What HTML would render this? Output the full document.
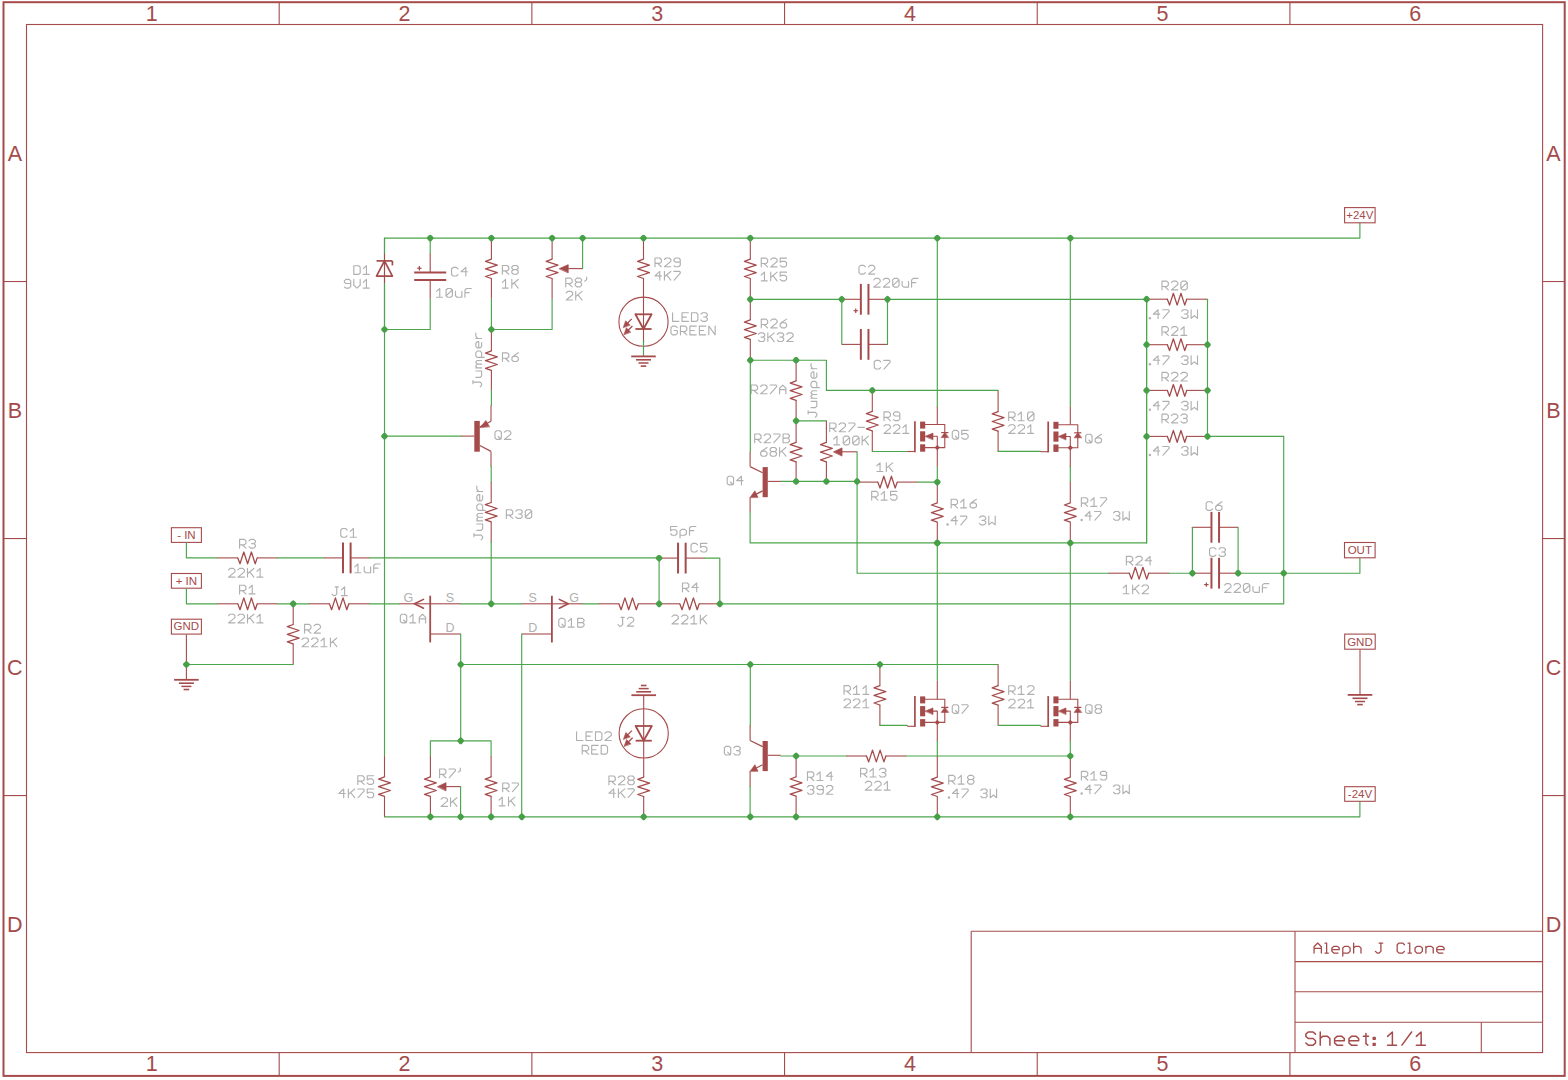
<!DOCTYPE html>
<html><head><meta charset="utf-8"><style>html,body{margin:0;padding:0;background:#fff;}svg{display:block;}</style></head>
<body><svg width="1568" height="1080" viewBox="0 0 1568 1080">
<rect width="1568" height="1080" fill="#fff"/>
<rect x="3.5" y="2.2" width="1561.2" height="1073.7" fill="none" stroke="#a54b4b" stroke-width="2"/>
<rect x="26.5" y="24.5" width="1516.1" height="1028.1" fill="none" stroke="#a54b4b" stroke-width="1.1"/>
<line x1="279.18" y1="2.2" x2="279.18" y2="24.5" stroke="#a54b4b" stroke-width="1.1"/>
<line x1="279.18" y1="1052.6" x2="279.18" y2="1075.9" stroke="#a54b4b" stroke-width="1.1"/>
<line x1="531.87" y1="2.2" x2="531.87" y2="24.5" stroke="#a54b4b" stroke-width="1.1"/>
<line x1="531.87" y1="1052.6" x2="531.87" y2="1075.9" stroke="#a54b4b" stroke-width="1.1"/>
<line x1="784.55" y1="2.2" x2="784.55" y2="24.5" stroke="#a54b4b" stroke-width="1.1"/>
<line x1="784.55" y1="1052.6" x2="784.55" y2="1075.9" stroke="#a54b4b" stroke-width="1.1"/>
<line x1="1037.23" y1="2.2" x2="1037.23" y2="24.5" stroke="#a54b4b" stroke-width="1.1"/>
<line x1="1037.23" y1="1052.6" x2="1037.23" y2="1075.9" stroke="#a54b4b" stroke-width="1.1"/>
<line x1="1289.92" y1="2.2" x2="1289.92" y2="24.5" stroke="#a54b4b" stroke-width="1.1"/>
<line x1="1289.92" y1="1052.6" x2="1289.92" y2="1075.9" stroke="#a54b4b" stroke-width="1.1"/>
<line x1="3.5" y1="281.52" x2="26.5" y2="281.52" stroke="#a54b4b" stroke-width="1.1"/>
<line x1="1542.6" y1="281.52" x2="1564.7" y2="281.52" stroke="#a54b4b" stroke-width="1.1"/>
<line x1="3.5" y1="538.55" x2="26.5" y2="538.55" stroke="#a54b4b" stroke-width="1.1"/>
<line x1="1542.6" y1="538.55" x2="1564.7" y2="538.55" stroke="#a54b4b" stroke-width="1.1"/>
<line x1="3.5" y1="795.57" x2="26.5" y2="795.57" stroke="#a54b4b" stroke-width="1.1"/>
<line x1="1542.6" y1="795.57" x2="1564.7" y2="795.57" stroke="#a54b4b" stroke-width="1.1"/>
<text x="151.84" y="21" font-size="21.5" fill="#a54b4b" text-anchor="middle" font-family="Liberation Sans" opacity="0.995" >1</text>
<text x="151.84" y="1071.3" font-size="21.5" fill="#a54b4b" text-anchor="middle" font-family="Liberation Sans" opacity="0.995" >1</text>
<text x="404.52" y="21" font-size="21.5" fill="#a54b4b" text-anchor="middle" font-family="Liberation Sans" opacity="0.995" >2</text>
<text x="404.52" y="1071.3" font-size="21.5" fill="#a54b4b" text-anchor="middle" font-family="Liberation Sans" opacity="0.995" >2</text>
<text x="657.21" y="21" font-size="21.5" fill="#a54b4b" text-anchor="middle" font-family="Liberation Sans" opacity="0.995" >3</text>
<text x="657.21" y="1071.3" font-size="21.5" fill="#a54b4b" text-anchor="middle" font-family="Liberation Sans" opacity="0.995" >3</text>
<text x="909.89" y="21" font-size="21.5" fill="#a54b4b" text-anchor="middle" font-family="Liberation Sans" opacity="0.995" >4</text>
<text x="909.89" y="1071.3" font-size="21.5" fill="#a54b4b" text-anchor="middle" font-family="Liberation Sans" opacity="0.995" >4</text>
<text x="1162.57" y="21" font-size="21.5" fill="#a54b4b" text-anchor="middle" font-family="Liberation Sans" opacity="0.995" >5</text>
<text x="1162.57" y="1071.3" font-size="21.5" fill="#a54b4b" text-anchor="middle" font-family="Liberation Sans" opacity="0.995" >5</text>
<text x="1415.26" y="21" font-size="21.5" fill="#a54b4b" text-anchor="middle" font-family="Liberation Sans" opacity="0.995" >6</text>
<text x="1415.26" y="1071.3" font-size="21.5" fill="#a54b4b" text-anchor="middle" font-family="Liberation Sans" opacity="0.995" >6</text>
<text x="14.8" y="160.81" font-size="21.5" fill="#a54b4b" text-anchor="middle" font-family="Liberation Sans" opacity="0.995" >A</text>
<text x="1553.5" y="160.81" font-size="21.5" fill="#a54b4b" text-anchor="middle" font-family="Liberation Sans" opacity="0.995" >A</text>
<text x="14.8" y="417.84" font-size="21.5" fill="#a54b4b" text-anchor="middle" font-family="Liberation Sans" opacity="0.995" >B</text>
<text x="1553.5" y="417.84" font-size="21.5" fill="#a54b4b" text-anchor="middle" font-family="Liberation Sans" opacity="0.995" >B</text>
<text x="14.8" y="674.86" font-size="21.5" fill="#a54b4b" text-anchor="middle" font-family="Liberation Sans" opacity="0.995" >C</text>
<text x="1553.5" y="674.86" font-size="21.5" fill="#a54b4b" text-anchor="middle" font-family="Liberation Sans" opacity="0.995" >C</text>
<text x="14.8" y="931.89" font-size="21.5" fill="#a54b4b" text-anchor="middle" font-family="Liberation Sans" opacity="0.995" >D</text>
<text x="1553.5" y="931.89" font-size="21.5" fill="#a54b4b" text-anchor="middle" font-family="Liberation Sans" opacity="0.995" >D</text>
<line x1="971.2" y1="931.2" x2="1542.6" y2="931.2" stroke="#a54b4b" stroke-width="1.1"/>
<line x1="971.2" y1="931.2" x2="971.2" y2="1052.6" stroke="#a54b4b" stroke-width="1.1"/>
<line x1="1295" y1="931.2" x2="1295" y2="1052.6" stroke="#a54b4b" stroke-width="1.1"/>
<line x1="1295" y1="961.6" x2="1542.6" y2="961.6" stroke="#a54b4b" stroke-width="1.1"/>
<line x1="1295" y1="991.7" x2="1542.6" y2="991.7" stroke="#a54b4b" stroke-width="1.1"/>
<line x1="1295" y1="1022.3" x2="1542.6" y2="1022.3" stroke="#a54b4b" stroke-width="1.1"/>
<line x1="1481.3" y1="1022.3" x2="1481.3" y2="1052.6" stroke="#a54b4b" stroke-width="1.1"/>
<path d="M1314.05 953.05 L1314.05 946.72 L1317.71 943.06 L1321.38 946.72 L1321.38 953.05 M1314.05 948.39 L1321.38 948.39 M1324.93 943.06 L1326.64 943.06 L1326.64 953.05 M1324.93 953.05 L1328.35 953.05 M1331.90 949.72 L1339.22 949.72 L1339.22 948.06 L1337.39 946.39 L1333.73 946.39 L1331.90 948.06 L1331.90 951.39 L1333.73 953.05 L1338.00 953.05 M1342.78 956.05 L1342.78 948.06 L1344.61 946.39 L1348.27 946.39 L1350.10 948.06 L1350.10 951.39 L1348.27 953.05 L1342.78 953.05 M1353.65 943.06 L1353.65 953.05 M1353.65 948.06 L1355.49 946.39 L1359.15 946.39 L1360.98 948.06 L1360.98 953.05 M1379.07 943.06 L1382.74 943.06 M1380.91 943.06 L1380.91 951.39 L1379.07 953.05 L1377.24 953.05 L1375.41 951.39 M1404.49 944.73 L1402.66 943.06 L1399.00 943.06 L1397.17 944.73 L1397.17 951.39 L1399.00 953.05 L1402.66 953.05 L1404.49 951.39 M1408.04 943.06 L1409.75 943.06 L1409.75 953.05 M1408.04 953.05 L1411.46 953.05 M1416.85 946.39 L1420.51 946.39 L1422.34 948.06 L1422.34 951.39 L1420.51 953.05 L1416.85 953.05 L1415.02 951.39 L1415.02 948.06 L1416.85 946.39 M1425.89 946.39 L1425.89 953.05 M1425.89 948.06 L1427.73 946.39 L1431.39 946.39 L1433.22 948.06 L1433.22 953.05 M1436.77 949.72 L1444.10 949.72 L1444.10 948.06 L1442.27 946.39 L1438.60 946.39 L1436.77 948.06 L1436.77 951.39 L1438.60 953.05 L1442.88 953.05" fill="none" stroke="#a54b4b" stroke-width="1.3" stroke-linecap="round" stroke-linejoin="round"/>
<path d="M1315.53 1034.15 L1313.11 1031.95 L1308.27 1031.95 L1305.85 1034.15 L1305.85 1036.35 L1308.27 1038.55 L1313.11 1038.55 L1315.53 1040.75 L1315.53 1042.95 L1313.11 1045.15 L1308.27 1045.15 L1305.85 1042.95 M1320.23 1031.95 L1320.23 1045.15 M1320.23 1038.55 L1322.65 1036.35 L1327.49 1036.35 L1329.91 1038.55 L1329.91 1045.15 M1334.60 1040.75 L1344.29 1040.75 L1344.29 1038.55 L1341.86 1036.35 L1337.02 1036.35 L1334.60 1038.55 L1334.60 1042.95 L1337.02 1045.15 L1342.67 1045.15 M1348.98 1040.75 L1358.66 1040.75 L1358.66 1038.55 L1356.24 1036.35 L1351.40 1036.35 L1348.98 1038.55 L1348.98 1042.95 L1351.40 1045.15 L1357.05 1045.15 M1365.94 1033.41 L1365.94 1043.68 L1367.87 1045.15 M1363.36 1036.35 L1368.52 1036.35 M1373.21 1037.52 L1375.15 1037.52 L1375.15 1039.28 L1373.21 1039.28 L1373.21 1037.52 M1373.21 1043.39 L1375.15 1043.39 L1375.15 1045.15 L1373.21 1045.15 L1373.21 1043.39" fill="none" stroke="#a54b4b" stroke-width="1.5" stroke-linecap="round" stroke-linejoin="round"/>
<path d="M1387.55 1036.35 L1392.39 1031.95 L1392.39 1045.15 M1387.55 1045.15 L1396.59 1045.15 M1401.93 1045.15 L1411.61 1031.95 M1416.30 1036.35 L1421.14 1031.95 L1421.14 1045.15 M1416.30 1045.15 L1425.34 1045.15" fill="none" stroke="#a54b4b" stroke-width="1.5" stroke-linecap="round" stroke-linejoin="round"/>
<polyline points="384.5,329.5 384.5,238.1 1359.9,238.1 1359.9,223" fill="none" stroke="#4ba54b" stroke-width="1.15" stroke-linejoin="round" stroke-linecap="round"/>
<polyline points="384.5,436.2 384.5,756.2" fill="none" stroke="#4ba54b" stroke-width="1.15" stroke-linejoin="round" stroke-linecap="round"/>
<polyline points="384.5,816.8 1359.9,816.8 1359.9,801.8" fill="none" stroke="#4ba54b" stroke-width="1.15" stroke-linejoin="round" stroke-linecap="round"/>
<rect x="171.4" y="527.7" width="30" height="14.7" fill="none" stroke="#a54b4b" stroke-width="1.1"/>
<text x="186.4" y="538.7" font-size="11.5" fill="#a54b4b" text-anchor="middle" font-family="Liberation Sans" opacity="0.995" >- IN</text>
<rect x="171.4" y="573.5" width="30" height="14.7" fill="none" stroke="#a54b4b" stroke-width="1.1"/>
<text x="186.4" y="584.5" font-size="11.5" fill="#a54b4b" text-anchor="middle" font-family="Liberation Sans" opacity="0.995" >+ IN</text>
<rect x="171.4" y="619.2" width="30" height="14.9" fill="none" stroke="#a54b4b" stroke-width="1.1"/>
<text x="186.4" y="630.4" font-size="11.5" fill="#a54b4b" text-anchor="middle" font-family="Liberation Sans" opacity="0.995" >GND</text>
<polyline points="186.4,542.9 186.4,557.9 217.5,557.9" fill="none" stroke="#4ba54b" stroke-width="1.15" stroke-linejoin="round" stroke-linecap="round"/>
<polyline points="237.8,557.9 240,563.8 243.8,552 247.6,563.8 251.4,552 255.2,563.8 257.2,557.9" fill="none" stroke="#a54b4b" stroke-width="1.3" stroke-linejoin="round" stroke-linecap="round"/>
<line x1="217.5" y1="557.9" x2="237.8" y2="557.9" stroke="#a54b4b" stroke-width="1.1"/>
<line x1="257.2" y1="557.9" x2="277.5" y2="557.9" stroke="#a54b4b" stroke-width="1.1"/>
<path d="M239.57 548.12 L239.57 539.44 L244.35 539.44 L245.94 540.89 L245.94 543.40 L244.35 544.84 L239.57 544.84 M242.23 544.84 L245.94 548.12 M249.03 540.89 L250.62 539.44 L253.81 539.44 L255.40 540.89 L255.40 542.34 L253.81 543.69 L251.69 543.69 M253.81 543.69 L255.40 545.13 L255.40 546.68 L253.81 548.12 L250.62 548.12 L249.03 546.68" fill="none" stroke="#b0b0b0" stroke-width="1.15" stroke-linecap="round" stroke-linejoin="round"/>
<path d="M228.57 569.89 L230.17 568.44 L233.35 568.44 L234.94 569.89 L234.94 571.82 L228.57 577.12 L234.94 577.12 M238.03 569.89 L239.62 568.44 L242.81 568.44 L244.40 569.89 L244.40 571.82 L238.03 577.12 L244.40 577.12 M247.49 568.44 L247.49 577.12 M253.86 568.44 L247.49 573.75 M249.72 571.91 L253.86 577.12 M256.95 571.34 L260.13 568.44 L260.13 577.12 M256.95 577.12 L262.89 577.12" fill="none" stroke="#b0b0b0" stroke-width="1.15" stroke-linecap="round" stroke-linejoin="round"/>
<polyline points="277.5,557.9 324.2,557.9" fill="none" stroke="#4ba54b" stroke-width="1.15" stroke-linejoin="round" stroke-linecap="round"/>
<line x1="324.2" y1="557.9" x2="343" y2="557.9" stroke="#a54b4b" stroke-width="1.1"/>
<line x1="350.6" y1="557.9" x2="369.4" y2="557.9" stroke="#a54b4b" stroke-width="1.1"/>
<line x1="343" y1="542.5" x2="343" y2="573.3" stroke="#a54b4b" stroke-width="2"/>
<line x1="350.6" y1="542.5" x2="350.6" y2="573.3" stroke="#a54b4b" stroke-width="2"/>
<path d="M347.14 529.99 L345.55 528.54 L342.37 528.54 L340.77 529.99 L340.77 535.78 L342.37 537.22 L345.55 537.22 L347.14 535.78 M350.23 531.43 L353.42 528.54 L353.42 537.22 M350.23 537.22 L356.18 537.22" fill="none" stroke="#b0b0b0" stroke-width="1.15" stroke-linecap="round" stroke-linejoin="round"/>
<path d="M354.77 566.93 L357.96 564.04 L357.96 572.72 M354.77 572.72 L360.72 572.72 M364.23 566.93 L364.23 571.28 L365.82 572.72 L370.60 572.72 M370.60 566.93 L370.60 572.72 M380.06 564.04 L375.28 564.04 L373.69 565.49 L373.69 572.72 M373.69 568.19 L377.94 568.19" fill="none" stroke="#b0b0b0" stroke-width="1.15" stroke-linecap="round" stroke-linejoin="round"/>
<polyline points="369.4,557.9 659.1,557.9" fill="none" stroke="#4ba54b" stroke-width="1.15" stroke-linejoin="round" stroke-linecap="round"/>
<polyline points="186.4,588.7 186.4,603.8 217.5,603.8" fill="none" stroke="#4ba54b" stroke-width="1.15" stroke-linejoin="round" stroke-linecap="round"/>
<polyline points="237.8,603.8 240,609.7 243.8,597.9 247.6,609.7 251.4,597.9 255.2,609.7 257.2,603.8" fill="none" stroke="#a54b4b" stroke-width="1.3" stroke-linejoin="round" stroke-linecap="round"/>
<line x1="217.5" y1="603.8" x2="237.8" y2="603.8" stroke="#a54b4b" stroke-width="1.1"/>
<line x1="257.2" y1="603.8" x2="277.5" y2="603.8" stroke="#a54b4b" stroke-width="1.1"/>
<path d="M239.57 593.92 L239.57 585.24 L244.35 585.24 L245.94 586.69 L245.94 589.20 L244.35 590.64 L239.57 590.64 M242.23 590.64 L245.94 593.92 M249.03 588.13 L252.22 585.24 L252.22 593.92 M249.03 593.92 L254.98 593.92" fill="none" stroke="#b0b0b0" stroke-width="1.15" stroke-linecap="round" stroke-linejoin="round"/>
<path d="M228.57 615.69 L230.17 614.24 L233.35 614.24 L234.94 615.69 L234.94 617.62 L228.57 622.92 L234.94 622.92 M238.03 615.69 L239.62 614.24 L242.81 614.24 L244.40 615.69 L244.40 617.62 L238.03 622.92 L244.40 622.92 M247.49 614.24 L247.49 622.92 M253.86 614.24 L247.49 619.55 M249.72 617.71 L253.86 622.92 M256.95 617.13 L260.13 614.24 L260.13 622.92 M256.95 622.92 L262.89 622.92" fill="none" stroke="#b0b0b0" stroke-width="1.15" stroke-linecap="round" stroke-linejoin="round"/>
<polyline points="277.5,603.8 308.8,603.8" fill="none" stroke="#4ba54b" stroke-width="1.15" stroke-linejoin="round" stroke-linecap="round"/>
<polyline points="329.4,603.8 331.6,609.7 335.4,597.9 339.2,609.7 343,597.9 346.8,609.7 348.8,603.8" fill="none" stroke="#a54b4b" stroke-width="1.3" stroke-linejoin="round" stroke-linecap="round"/>
<line x1="308.8" y1="603.8" x2="329.4" y2="603.8" stroke="#a54b4b" stroke-width="1.1"/>
<line x1="348.8" y1="603.8" x2="369.4" y2="603.8" stroke="#a54b4b" stroke-width="1.1"/>
<path d="M335.16 586.94 L338.34 586.94 M336.75 586.94 L336.75 594.18 L335.16 595.62 L333.57 595.62 L331.97 594.18 M341.43 589.84 L344.62 586.94 L344.62 595.62 M341.43 595.62 L347.38 595.62" fill="none" stroke="#b0b0b0" stroke-width="1.15" stroke-linecap="round" stroke-linejoin="round"/>
<polyline points="369.4,603.8 399.6,603.8" fill="none" stroke="#4ba54b" stroke-width="1.15" stroke-linejoin="round" stroke-linecap="round"/>
<polyline points="293.2,624.5 287.3,626.7 299.1,630.5 287.3,634.3 299.1,638.1 287.3,641.9 293.2,643.9" fill="none" stroke="#a54b4b" stroke-width="1.3" stroke-linejoin="round" stroke-linecap="round"/>
<line x1="293.2" y1="603.8" x2="293.2" y2="624.5" stroke="#a54b4b" stroke-width="1.1"/>
<line x1="293.2" y1="643.9" x2="293.2" y2="664.5" stroke="#a54b4b" stroke-width="1.1"/>
<path d="M304.57 633.12 L304.57 624.44 L309.35 624.44 L310.94 625.89 L310.94 628.40 L309.35 629.84 L304.57 629.84 M307.23 629.84 L310.94 633.12 M314.03 625.89 L315.62 624.44 L318.81 624.44 L320.40 625.89 L320.40 627.82 L314.03 633.12 L320.40 633.12" fill="none" stroke="#b0b0b0" stroke-width="1.15" stroke-linecap="round" stroke-linejoin="round"/>
<path d="M302.07 639.49 L303.67 638.04 L306.85 638.04 L308.44 639.49 L308.44 641.42 L302.07 646.72 L308.44 646.72 M311.53 639.49 L313.12 638.04 L316.31 638.04 L317.90 639.49 L317.90 641.42 L311.53 646.72 L317.90 646.72 M320.99 640.93 L324.17 638.04 L324.17 646.72 M320.99 646.72 L326.93 646.72 M330.45 638.04 L330.45 646.72 M336.81 638.04 L330.45 643.35 M332.68 641.51 L336.81 646.72" fill="none" stroke="#b0b0b0" stroke-width="1.15" stroke-linecap="round" stroke-linejoin="round"/>
<polyline points="293.2,664.5 186.4,664.5" fill="none" stroke="#4ba54b" stroke-width="1.15" stroke-linejoin="round" stroke-linecap="round"/>
<line x1="186.4" y1="634.6" x2="186.4" y2="679.8" stroke="#a54b4b" stroke-width="1.1"/>
<line x1="174.1" y1="679.8" x2="198.7" y2="679.8" stroke="#a54b4b" stroke-width="1.8"/>
<line x1="178.9" y1="683.2" x2="193.9" y2="683.2" stroke="#a54b4b" stroke-width="1.6"/>
<line x1="181.4" y1="686.4" x2="191.4" y2="686.4" stroke="#a54b4b" stroke-width="1.5"/>
<line x1="183.6" y1="689.5" x2="189.2" y2="689.5" stroke="#a54b4b" stroke-width="1.6"/>
<polyline points="384.5,238.1 384.5,253.7" fill="none" stroke="#4ba54b" stroke-width="1.15" stroke-linejoin="round" stroke-linecap="round"/>
<line x1="384.5" y1="253.7" x2="384.5" y2="283.5" stroke="#a54b4b" stroke-width="1.1"/>
<line x1="376.5" y1="260.9" x2="392.4" y2="260.9" stroke="#a54b4b" stroke-width="1.7"/>
<line x1="392.4" y1="260.9" x2="392.4" y2="265.4" stroke="#a54b4b" stroke-width="1.7"/>
<polygon points="384.5,260.9 376.5,276.1 392.4,276.1" fill="none" stroke="#a54b4b" stroke-width="1.7" stroke-linejoin="round" stroke-linecap="round"/>
<polyline points="384.5,283.5 384.5,329.5 430.2,329.5 430.2,298.8" fill="none" stroke="#4ba54b" stroke-width="1.15" stroke-linejoin="round" stroke-linecap="round"/>
<path d="M353.80 265.74 L358.58 265.74 L360.17 267.19 L360.17 272.98 L358.58 274.43 L353.80 274.43 L353.80 265.74 M363.26 268.63 L366.44 265.74 L366.44 274.43 M363.26 274.43 L369.20 274.43" fill="none" stroke="#b0b0b0" stroke-width="1.15" stroke-linecap="round" stroke-linejoin="round"/>
<path d="M350.71 283.49 L345.93 283.49 L344.34 282.14 L344.34 280.89 L345.93 279.44 L349.12 279.44 L350.71 280.89 L350.71 286.68 L349.12 288.12 L345.93 288.12 L344.55 287.16 M353.80 279.44 L353.80 285.23 L356.98 288.12 L360.17 285.23 L360.17 279.44 M363.26 282.33 L366.44 279.44 L366.44 288.12 M363.26 288.12 L369.20 288.12" fill="none" stroke="#b0b0b0" stroke-width="1.15" stroke-linecap="round" stroke-linejoin="round"/>
<polyline points="430.2,238.1 430.2,253.7" fill="none" stroke="#4ba54b" stroke-width="1.15" stroke-linejoin="round" stroke-linecap="round"/>
<line x1="430.2" y1="253.65" x2="430.2" y2="272.45" stroke="#a54b4b" stroke-width="1.1"/>
<line x1="430.2" y1="280.05" x2="430.2" y2="298.85" stroke="#a54b4b" stroke-width="1.1"/>
<line x1="414.2" y1="272.45" x2="446.2" y2="272.45" stroke="#a54b4b" stroke-width="2"/>
<line x1="414.2" y1="280.05" x2="446.2" y2="280.05" stroke="#a54b4b" stroke-width="2"/>
<line x1="417.2" y1="268.25" x2="421.6" y2="268.25" stroke="#a54b4b" stroke-width="1.2"/>
<line x1="419.4" y1="266.05" x2="419.4" y2="270.45" stroke="#a54b4b" stroke-width="1.2"/>
<path d="M457.94 268.79 L456.35 267.34 L453.17 267.34 L451.57 268.79 L451.57 274.58 L453.17 276.03 L456.35 276.03 L457.94 274.58 M465.81 276.03 L465.81 267.34 L461.03 271.78 L467.40 271.78" fill="none" stroke="#b0b0b0" stroke-width="1.15" stroke-linecap="round" stroke-linejoin="round"/>
<path d="M436.57 291.44 L439.76 288.54 L439.76 297.23 M436.57 297.23 L442.52 297.23 M447.62 288.54 L450.81 288.54 L452.40 289.99 L452.40 295.78 L450.81 297.23 L447.62 297.23 L446.03 295.78 L446.03 289.99 L447.62 288.54 M446.67 295.30 L451.76 290.47 M455.49 291.44 L455.49 295.78 L457.08 297.23 L461.86 297.23 M461.86 291.44 L461.86 297.23 M471.31 288.54 L466.54 288.54 L464.95 289.99 L464.95 297.23 M464.95 292.69 L469.19 292.69" fill="none" stroke="#b0b0b0" stroke-width="1.15" stroke-linecap="round" stroke-linejoin="round"/>
<polyline points="491.4,259.1 485.5,261.3 497.3,265.1 485.5,268.9 497.3,272.7 485.5,276.5 491.4,278.5" fill="none" stroke="#a54b4b" stroke-width="1.3" stroke-linejoin="round" stroke-linecap="round"/>
<line x1="491.4" y1="238.1" x2="491.4" y2="259.1" stroke="#a54b4b" stroke-width="1.1"/>
<line x1="491.4" y1="278.5" x2="491.4" y2="298.8" stroke="#a54b4b" stroke-width="1.1"/>
<path d="M502.38 274.23 L502.38 265.54 L507.15 265.54 L508.74 266.99 L508.74 269.50 L507.15 270.94 L502.38 270.94 M505.03 270.94 L508.74 274.23 M513.42 265.54 L516.61 265.54 L518.20 266.99 L518.20 268.24 L516.61 269.59 L513.42 269.59 L511.83 268.24 L511.83 266.99 L513.42 265.54 M513.42 269.59 L511.83 271.04 L511.83 272.78 L513.42 274.23 L516.61 274.23 L518.20 272.78 L518.20 271.04 L516.61 269.59" fill="none" stroke="#b0b0b0" stroke-width="1.15" stroke-linecap="round" stroke-linejoin="round"/>
<path d="M502.38 282.33 L505.56 279.44 L505.56 288.12 M502.38 288.12 L508.32 288.12 M511.83 279.44 L511.83 288.12 M518.20 279.44 L511.83 284.75 M514.06 282.91 L518.20 288.12" fill="none" stroke="#b0b0b0" stroke-width="1.15" stroke-linecap="round" stroke-linejoin="round"/>
<polyline points="491.4,298.8 491.4,329.5 552.1,329.5 552.1,298.8" fill="none" stroke="#4ba54b" stroke-width="1.15" stroke-linejoin="round" stroke-linecap="round"/>
<polyline points="552.1,259.1 546.2,261.3 558,265.1 546.2,268.9 558,272.7 546.2,276.5 552.1,278.5" fill="none" stroke="#a54b4b" stroke-width="1.3" stroke-linejoin="round" stroke-linecap="round"/>
<line x1="552.1" y1="238.1" x2="552.1" y2="259.1" stroke="#a54b4b" stroke-width="1.1"/>
<line x1="552.1" y1="278.5" x2="552.1" y2="298.8" stroke="#a54b4b" stroke-width="1.1"/>
<polygon points="559.5,268.6 568.2,264.7 568.2,272.5" fill="#a54b4b" stroke="#a54b4b" stroke-width="0.8" stroke-linejoin="round" stroke-linecap="round"/>
<line x1="568.2" y1="268.6" x2="582.6" y2="268.6" stroke="#a54b4b" stroke-width="1.1"/>
<polyline points="582.6,268.6 582.6,238.1" fill="none" stroke="#4ba54b" stroke-width="1.15" stroke-linejoin="round" stroke-linecap="round"/>
<path d="M565.78 286.82 L565.78 278.14 L570.55 278.14 L572.14 279.59 L572.14 282.10 L570.55 283.54 L565.78 283.54 M568.43 283.54 L572.14 286.82 M576.82 278.14 L580.01 278.14 L581.60 279.59 L581.60 280.84 L580.01 282.19 L576.82 282.19 L575.23 280.84 L575.23 279.59 L576.82 278.14 M576.82 282.19 L575.23 283.64 L575.23 285.38 L576.82 286.82 L580.01 286.82 L581.60 285.38 L581.60 283.64 L580.01 282.19 M586.60 277.18 L586.60 279.59 L584.69 281.23" fill="none" stroke="#b0b0b0" stroke-width="1.15" stroke-linecap="round" stroke-linejoin="round"/>
<path d="M566.28 292.79 L567.87 291.34 L571.05 291.34 L572.64 292.79 L572.64 294.72 L566.28 300.03 L572.64 300.03 M575.73 291.34 L575.73 300.03 M582.10 291.34 L575.73 296.65 M577.96 294.81 L582.10 300.03" fill="none" stroke="#b0b0b0" stroke-width="1.15" stroke-linecap="round" stroke-linejoin="round"/>
<polyline points="643.5,259.1 637.6,261.3 649.4,265.1 637.6,268.9 649.4,272.7 637.6,276.5 643.5,278.5" fill="none" stroke="#a54b4b" stroke-width="1.3" stroke-linejoin="round" stroke-linecap="round"/>
<line x1="643.5" y1="238.1" x2="643.5" y2="259.1" stroke="#a54b4b" stroke-width="1.1"/>
<line x1="643.5" y1="278.5" x2="643.5" y2="341.2" stroke="#a54b4b" stroke-width="1.1"/>
<path d="M654.98 266.73 L654.98 258.04 L659.75 258.04 L661.34 259.49 L661.34 262.00 L659.75 263.44 L654.98 263.44 M657.63 263.44 L661.34 266.73 M664.43 259.49 L666.02 258.04 L669.21 258.04 L670.80 259.49 L670.80 261.42 L664.43 266.73 L670.80 266.73 M680.26 262.09 L675.48 262.09 L673.89 260.74 L673.89 259.49 L675.48 258.04 L678.67 258.04 L680.26 259.49 L680.26 265.28 L678.67 266.73 L675.48 266.73 L674.10 265.76" fill="none" stroke="#b0b0b0" stroke-width="1.15" stroke-linecap="round" stroke-linejoin="round"/>
<path d="M659.75 280.12 L659.75 271.44 L654.98 275.88 L661.34 275.88 M664.43 271.44 L664.43 280.12 M670.80 271.44 L664.43 276.75 M666.66 274.91 L670.80 280.12 M673.89 271.44 L679.73 271.44 L680.26 272.21 L680.26 273.18 L674.21 280.12" fill="none" stroke="#b0b0b0" stroke-width="1.15" stroke-linecap="round" stroke-linejoin="round"/>
<circle cx="643.5" cy="321.7" r="24.6" fill="none" stroke="#a54b4b" stroke-width="1.1"/>
<line x1="635.4" y1="314.3" x2="651.6" y2="314.3" stroke="#a54b4b" stroke-width="1.8"/>
<polyline points="635.4,314.3 643.5,329 651.6,314.3" fill="none" stroke="#a54b4b" stroke-width="1.8" stroke-linejoin="round" stroke-linecap="round"/>
<line x1="635.4" y1="329" x2="651.6" y2="329" stroke="#a54b4b" stroke-width="1.8"/>
<line x1="631.7" y1="318.9" x2="625" y2="325.7" stroke="#a54b4b" stroke-width="1.3"/>
<polygon points="623.25,327.48 625.67,320.75 629.94,324.96" fill="#a54b4b" stroke="#a54b4b" stroke-width="0.6" stroke-linejoin="round" stroke-linecap="round"/>
<line x1="632.4" y1="326" x2="625.7" y2="332.8" stroke="#a54b4b" stroke-width="1.3"/>
<polygon points="623.95,334.58 626.37,327.85 630.64,332.06" fill="#a54b4b" stroke="#a54b4b" stroke-width="0.6" stroke-linejoin="round" stroke-linecap="round"/>
<polyline points="643.5,341.2 643.5,356.4" fill="none" stroke="#4ba54b" stroke-width="1.15" stroke-linejoin="round" stroke-linecap="round"/>
<line x1="631.2" y1="356.4" x2="655.8" y2="356.4" stroke="#a54b4b" stroke-width="1.8"/>
<line x1="636" y1="359.8" x2="651" y2="359.8" stroke="#a54b4b" stroke-width="1.6"/>
<line x1="638.5" y1="363" x2="648.5" y2="363" stroke="#a54b4b" stroke-width="1.5"/>
<line x1="640.7" y1="366.1" x2="646.3" y2="366.1" stroke="#a54b4b" stroke-width="1.6"/>
<path d="M672.58 312.74 L672.58 321.43 L678.94 321.43 M688.40 312.74 L682.03 312.74 L682.03 321.43 L688.40 321.43 M682.03 317.08 L686.28 317.08 M691.49 312.74 L696.27 312.74 L697.86 314.19 L697.86 319.98 L696.27 321.43 L691.49 321.43 L691.49 312.74 M700.95 314.19 L702.54 312.74 L705.72 312.74 L707.32 314.19 L707.32 315.63 L705.72 316.99 L703.60 316.99 M705.72 316.99 L707.32 318.43 L707.32 319.98 L705.72 321.43 L702.54 321.43 L700.95 319.98" fill="none" stroke="#b0b0b0" stroke-width="1.15" stroke-linecap="round" stroke-linejoin="round"/>
<path d="M677.34 327.59 L675.75 326.14 L672.57 326.14 L670.98 327.59 L670.98 333.38 L672.57 334.82 L675.75 334.82 L677.34 333.38 L677.34 330.48 L674.16 330.48 M680.43 334.82 L680.43 326.14 L685.21 326.14 L686.80 327.59 L686.80 330.10 L685.21 331.54 L680.43 331.54 M683.09 331.54 L686.80 334.82 M696.26 326.14 L689.89 326.14 L689.89 334.82 L696.26 334.82 M689.89 330.48 L694.13 330.48 M705.72 326.14 L699.35 326.14 L699.35 334.82 L705.72 334.82 M699.35 330.48 L703.59 330.48 M708.80 334.82 L708.80 326.14 L715.17 334.82 L715.17 326.14" fill="none" stroke="#b0b0b0" stroke-width="1.15" stroke-linecap="round" stroke-linejoin="round"/>
<polyline points="491.4,350.9 485.5,353.1 497.3,356.9 485.5,360.7 497.3,364.5 485.5,368.3 491.4,370.3" fill="none" stroke="#a54b4b" stroke-width="1.3" stroke-linejoin="round" stroke-linecap="round"/>
<line x1="491.4" y1="329.5" x2="491.4" y2="350.9" stroke="#a54b4b" stroke-width="1.1"/>
<line x1="491.4" y1="370.3" x2="491.4" y2="390.6" stroke="#a54b4b" stroke-width="1.1"/>
<path d="M502.47 361.53 L502.47 352.84 L507.25 352.84 L508.84 354.29 L508.84 356.80 L507.25 358.24 L502.47 358.24 M505.13 358.24 L508.84 361.53 M518.30 352.84 L513.31 356.12 L511.93 357.67 L511.93 360.08 L513.52 361.53 L516.71 361.53 L518.30 360.08 L518.30 357.86 L516.71 356.41 L513.52 356.41 L511.93 357.86" fill="none" stroke="#b0b0b0" stroke-width="1.15" stroke-linecap="round" stroke-linejoin="round"/>
<path d="M3.76 -9.26 L6.94 -9.26 M5.35 -9.26 L5.35 -2.02 L3.76 -0.57 L2.17 -0.57 L0.57 -2.02 M10.03 -6.37 L10.03 -2.02 L11.62 -0.57 L16.40 -0.57 M16.40 -6.37 L16.40 -0.57 M19.49 -6.37 L19.49 -0.57 M19.49 -4.92 L21.08 -6.37 L21.72 -6.37 L23.20 -4.92 L23.20 -0.57 M23.20 -4.92 L24.69 -6.37 L25.33 -6.37 L26.92 -4.92 L26.92 -0.57 M30.01 2.03 L30.01 -4.92 L31.60 -6.37 L34.78 -6.37 L36.38 -4.92 L36.38 -2.02 L34.78 -0.57 L30.01 -0.57 M39.46 -3.47 L45.83 -3.47 L45.83 -4.92 L44.24 -6.37 L41.06 -6.37 L39.46 -4.92 L39.46 -2.02 L41.06 -0.57 L44.77 -0.57 M48.92 -6.37 L48.92 -0.57 M48.92 -4.43 L51.04 -6.37 L54.23 -6.37" fill="none" stroke="#b0b0b0" stroke-width="1.15" stroke-linecap="round" stroke-linejoin="round" transform="translate(482.2,387.4) rotate(-90)"/>
<polyline points="491.4,390.6 491.4,405.5" fill="none" stroke="#4ba54b" stroke-width="1.15" stroke-linejoin="round" stroke-linecap="round"/>
<rect x="474.3" y="420.9" width="5.5" height="30.8" fill="#a54b4b"/>
<line x1="461" y1="436.1" x2="474.3" y2="436.1" stroke="#a54b4b" stroke-width="1.1"/>
<polyline points="384.5,436.1 461,436.1" fill="none" stroke="#4ba54b" stroke-width="1.15" stroke-linejoin="round" stroke-linecap="round"/>
<line x1="491" y1="405.5" x2="491" y2="421.2" stroke="#a54b4b" stroke-width="1.1"/>
<line x1="491" y1="421.2" x2="479.8" y2="427" stroke="#a54b4b" stroke-width="1.2"/>
<polygon points="480,427.4 485.9,420.4 489.4,426.6" fill="#a54b4b" stroke="#a54b4b" stroke-width="0.6" stroke-linejoin="round" stroke-linecap="round"/>
<line x1="479.8" y1="445.5" x2="491" y2="451.4" stroke="#a54b4b" stroke-width="1.2"/>
<line x1="491" y1="451.4" x2="491" y2="466.3" stroke="#a54b4b" stroke-width="1.1"/>
<path d="M496.57 430.74 L499.75 430.74 L501.34 432.19 L501.34 437.98 L499.75 439.43 L496.57 439.43 L494.97 437.98 L494.97 432.19 L496.57 430.74 M498.16 436.53 L500.92 439.23 M504.43 432.19 L506.02 430.74 L509.21 430.74 L510.80 432.19 L510.80 434.12 L504.43 439.43 L510.80 439.43" fill="none" stroke="#b0b0b0" stroke-width="1.15" stroke-linecap="round" stroke-linejoin="round"/>
<polyline points="491.2,466.3 491.2,482" fill="none" stroke="#4ba54b" stroke-width="1.15" stroke-linejoin="round" stroke-linecap="round"/>
<polyline points="491.2,502.5 485.3,504.7 497.1,508.5 485.3,512.3 497.1,516.1 485.3,519.9 491.2,521.9" fill="none" stroke="#a54b4b" stroke-width="1.3" stroke-linejoin="round" stroke-linecap="round"/>
<line x1="491.2" y1="482" x2="491.2" y2="502.5" stroke="#a54b4b" stroke-width="1.1"/>
<line x1="491.2" y1="521.9" x2="491.2" y2="542.3" stroke="#a54b4b" stroke-width="1.1"/>
<path d="M506.38 518.42 L506.38 509.74 L511.15 509.74 L512.74 511.19 L512.74 513.70 L511.15 515.14 L506.38 515.14 M509.03 515.14 L512.74 518.42 M515.83 511.19 L517.42 509.74 L520.61 509.74 L522.20 511.19 L522.20 512.63 L520.61 513.99 L518.49 513.99 M520.61 513.99 L522.20 515.43 L522.20 516.98 L520.61 518.42 L517.42 518.42 L515.83 516.98 M526.88 509.74 L530.07 509.74 L531.66 511.19 L531.66 516.98 L530.07 518.42 L526.88 518.42 L525.29 516.98 L525.29 511.19 L526.88 509.74 M525.93 516.50 L531.02 511.67" fill="none" stroke="#b0b0b0" stroke-width="1.15" stroke-linecap="round" stroke-linejoin="round"/>
<path d="M3.76 -9.26 L6.94 -9.26 M5.35 -9.26 L5.35 -2.02 L3.76 -0.57 L2.17 -0.57 L0.57 -2.02 M10.03 -6.37 L10.03 -2.02 L11.62 -0.57 L16.40 -0.57 M16.40 -6.37 L16.40 -0.57 M19.49 -6.37 L19.49 -0.57 M19.49 -4.92 L21.08 -6.37 L21.72 -6.37 L23.20 -4.92 L23.20 -0.57 M23.20 -4.92 L24.69 -6.37 L25.33 -6.37 L26.92 -4.92 L26.92 -0.57 M30.01 2.03 L30.01 -4.92 L31.60 -6.37 L34.78 -6.37 L36.38 -4.92 L36.38 -2.02 L34.78 -0.57 L30.01 -0.57 M39.46 -3.47 L45.83 -3.47 L45.83 -4.92 L44.24 -6.37 L41.06 -6.37 L39.46 -4.92 L39.46 -2.02 L41.06 -0.57 L44.77 -0.57 M48.92 -6.37 L48.92 -0.57 M48.92 -4.43 L51.04 -6.37 L54.23 -6.37" fill="none" stroke="#b0b0b0" stroke-width="1.15" stroke-linecap="round" stroke-linejoin="round" transform="translate(483.2,540.4) rotate(-90)"/>
<polyline points="491.2,542.3 491.2,603.8" fill="none" stroke="#4ba54b" stroke-width="1.15" stroke-linejoin="round" stroke-linecap="round"/>
<polyline points="384.5,329.5 384.5,436.2" fill="none" stroke="#4ba54b" stroke-width="1.15" stroke-linejoin="round" stroke-linecap="round"/>
<line x1="430.2" y1="595.7" x2="430.2" y2="642.4" stroke="#a54b4b" stroke-width="1.8"/>
<line x1="399.6" y1="603.8" x2="430.2" y2="603.8" stroke="#a54b4b" stroke-width="1.1"/>
<line x1="430.2" y1="603.8" x2="460.7" y2="603.8" stroke="#a54b4b" stroke-width="1.1"/>
<line x1="430.2" y1="634" x2="460.7" y2="634" stroke="#a54b4b" stroke-width="1.1"/>
<polyline points="423.5,599.4 414.4,603.8 423.5,608.2" fill="none" stroke="#a54b4b" stroke-width="1.6" stroke-linejoin="round" stroke-linecap="round"/>
<line x1="551.9" y1="595.7" x2="551.9" y2="642.4" stroke="#a54b4b" stroke-width="1.8"/>
<line x1="582.7" y1="603.8" x2="551.9" y2="603.8" stroke="#a54b4b" stroke-width="1.1"/>
<line x1="551.9" y1="603.8" x2="521.7" y2="603.8" stroke="#a54b4b" stroke-width="1.1"/>
<line x1="551.9" y1="634" x2="521.7" y2="634" stroke="#a54b4b" stroke-width="1.1"/>
<polyline points="559.3,599.4 568.2,603.8 559.3,608.2" fill="none" stroke="#a54b4b" stroke-width="1.6" stroke-linejoin="round" stroke-linecap="round"/>
<text x="408.3" y="601.8" font-size="12.5" fill="#b0b0b0" text-anchor="middle" font-family="Liberation Sans" opacity="0.995" >G</text>
<text x="449.8" y="601.8" font-size="12.5" fill="#b0b0b0" text-anchor="middle" font-family="Liberation Sans" opacity="0.995" >S</text>
<text x="450" y="631.7" font-size="12.5" fill="#b0b0b0" text-anchor="middle" font-family="Liberation Sans" opacity="0.995" >D</text>
<text x="532.7" y="601.8" font-size="12.5" fill="#b0b0b0" text-anchor="middle" font-family="Liberation Sans" opacity="0.995" >S</text>
<text x="574" y="601.8" font-size="12.5" fill="#b0b0b0" text-anchor="middle" font-family="Liberation Sans" opacity="0.995" >G</text>
<text x="532.7" y="631.7" font-size="12.5" fill="#b0b0b0" text-anchor="middle" font-family="Liberation Sans" opacity="0.995" >D</text>
<path d="M401.93 614.24 L405.12 614.24 L406.71 615.69 L406.71 621.48 L405.12 622.92 L401.93 622.92 L400.34 621.48 L400.34 615.69 L401.93 614.24 M403.53 620.03 L406.29 622.73 M409.80 617.13 L412.98 614.24 L412.98 622.92 M409.80 622.92 L415.74 622.92 M419.26 622.92 L419.26 617.42 L422.44 614.24 L425.62 617.42 L425.62 622.92 M419.26 618.87 L425.62 618.87" fill="none" stroke="#b0b0b0" stroke-width="1.15" stroke-linecap="round" stroke-linejoin="round"/>
<path d="M560.37 618.44 L563.55 618.44 L565.14 619.89 L565.14 625.68 L563.55 627.12 L560.37 627.12 L558.78 625.68 L558.78 619.89 L560.37 618.44 M561.96 624.23 L564.72 626.93 M568.23 621.34 L571.42 618.44 L571.42 627.12 M568.23 627.12 L574.18 627.12 M577.69 618.44 L582.47 618.44 L584.06 619.89 L584.06 621.14 L582.47 622.59 L577.69 622.59 M582.47 622.59 L584.06 624.04 L584.06 625.68 L582.47 627.12 L577.69 627.12 L577.69 618.44" fill="none" stroke="#b0b0b0" stroke-width="1.15" stroke-linecap="round" stroke-linejoin="round"/>
<polyline points="460.7,603.8 521.7,603.8" fill="none" stroke="#4ba54b" stroke-width="1.15" stroke-linejoin="round" stroke-linecap="round"/>
<polyline points="460.7,634 460.7,740.8" fill="none" stroke="#4ba54b" stroke-width="1.15" stroke-linejoin="round" stroke-linecap="round"/>
<polyline points="521.7,634 521.7,816.8" fill="none" stroke="#4ba54b" stroke-width="1.15" stroke-linejoin="round" stroke-linecap="round"/>
<polyline points="460.7,664.5 998.1,664.5" fill="none" stroke="#4ba54b" stroke-width="1.15" stroke-linejoin="round" stroke-linecap="round"/>
<polyline points="582.7,603.8 598.6,603.8" fill="none" stroke="#4ba54b" stroke-width="1.15" stroke-linejoin="round" stroke-linecap="round"/>
<polyline points="618.9,603.8 621.1,609.7 624.9,597.9 628.7,609.7 632.5,597.9 636.3,609.7 638.3,603.8" fill="none" stroke="#a54b4b" stroke-width="1.3" stroke-linejoin="round" stroke-linecap="round"/>
<line x1="598.6" y1="603.8" x2="618.9" y2="603.8" stroke="#a54b4b" stroke-width="1.1"/>
<line x1="638.3" y1="603.8" x2="659.1" y2="603.8" stroke="#a54b4b" stroke-width="1.1"/>
<path d="M621.06 617.44 L624.24 617.44 M622.65 617.44 L622.65 624.68 L621.06 626.12 L619.47 626.12 L617.88 624.68 M627.33 618.89 L628.92 617.44 L632.11 617.44 L633.70 618.89 L633.70 620.82 L627.33 626.12 L633.70 626.12" fill="none" stroke="#b0b0b0" stroke-width="1.15" stroke-linecap="round" stroke-linejoin="round"/>
<polyline points="659.1,558.1 659.1,603.8" fill="none" stroke="#4ba54b" stroke-width="1.15" stroke-linejoin="round" stroke-linecap="round"/>
<line x1="659.25" y1="558.1" x2="678.05" y2="558.1" stroke="#a54b4b" stroke-width="1.1"/>
<line x1="685.65" y1="558.1" x2="704.45" y2="558.1" stroke="#a54b4b" stroke-width="1.1"/>
<line x1="678.05" y1="542.7" x2="678.05" y2="573.5" stroke="#a54b4b" stroke-width="2"/>
<line x1="685.65" y1="542.7" x2="685.65" y2="573.5" stroke="#a54b4b" stroke-width="2"/>
<path d="M676.94 526.54 L670.58 526.54 L670.58 530.79 L672.17 529.72 L675.35 529.72 L676.94 531.17 L676.94 533.78 L675.35 535.22 L672.17 535.22 L670.58 533.78 M680.03 537.83 L680.03 530.88 L681.62 529.43 L684.81 529.43 L686.40 530.88 L686.40 533.78 L684.81 535.22 L680.03 535.22 M695.86 526.54 L691.08 526.54 L689.49 527.99 L689.49 535.22 M689.49 530.69 L693.74 530.69" fill="none" stroke="#b0b0b0" stroke-width="1.15" stroke-linecap="round" stroke-linejoin="round"/>
<path d="M697.44 544.79 L695.85 543.34 L692.67 543.34 L691.08 544.79 L691.08 550.58 L692.67 552.02 L695.85 552.02 L697.44 550.58 M706.90 543.34 L700.53 543.34 L700.53 547.59 L702.12 546.52 L705.31 546.52 L706.90 547.97 L706.90 550.58 L705.31 552.02 L702.12 552.02 L700.53 550.58" fill="none" stroke="#b0b0b0" stroke-width="1.15" stroke-linecap="round" stroke-linejoin="round"/>
<polyline points="704.4,558.1 719.8,558.1 719.8,603.8" fill="none" stroke="#4ba54b" stroke-width="1.15" stroke-linejoin="round" stroke-linecap="round"/>
<polyline points="679.8,603.8 682,609.7 685.8,597.9 689.6,609.7 693.4,597.9 697.2,609.7 699.2,603.8" fill="none" stroke="#a54b4b" stroke-width="1.3" stroke-linejoin="round" stroke-linecap="round"/>
<line x1="659.1" y1="603.8" x2="679.8" y2="603.8" stroke="#a54b4b" stroke-width="1.1"/>
<line x1="699.2" y1="603.8" x2="719.8" y2="603.8" stroke="#a54b4b" stroke-width="1.1"/>
<path d="M682.48 591.72 L682.48 583.04 L687.25 583.04 L688.84 584.49 L688.84 587.00 L687.25 588.44 L682.48 588.44 M685.13 588.44 L688.84 591.72 M696.71 591.72 L696.71 583.04 L691.93 587.48 L698.30 587.48" fill="none" stroke="#b0b0b0" stroke-width="1.15" stroke-linecap="round" stroke-linejoin="round"/>
<path d="M671.98 616.59 L673.57 615.14 L676.75 615.14 L678.34 616.59 L678.34 618.52 L671.98 623.82 L678.34 623.82 M681.43 616.59 L683.02 615.14 L686.21 615.14 L687.80 616.59 L687.80 618.52 L681.43 623.82 L687.80 623.82 M690.89 618.03 L694.07 615.14 L694.07 623.82 M690.89 623.82 L696.83 623.82 M700.35 615.14 L700.35 623.82 M706.72 615.14 L700.35 620.45 M702.58 618.61 L706.72 623.82" fill="none" stroke="#b0b0b0" stroke-width="1.15" stroke-linecap="round" stroke-linejoin="round"/>
<polyline points="719.8,603.8 1283.7,603.8 1283.7,436.4 1207.5,436.4" fill="none" stroke="#4ba54b" stroke-width="1.15" stroke-linejoin="round" stroke-linecap="round"/>
<polyline points="384.5,776.9 378.6,779.1 390.4,782.9 378.6,786.7 390.4,790.5 378.6,794.3 384.5,796.3" fill="none" stroke="#a54b4b" stroke-width="1.3" stroke-linejoin="round" stroke-linecap="round"/>
<line x1="384.5" y1="756.2" x2="384.5" y2="776.9" stroke="#a54b4b" stroke-width="1.1"/>
<line x1="384.5" y1="796.3" x2="384.5" y2="816.8" stroke="#a54b4b" stroke-width="1.1"/>
<path d="M357.80 784.42 L357.80 775.74 L362.58 775.74 L364.17 777.19 L364.17 779.70 L362.58 781.14 L357.80 781.14 M360.45 781.14 L364.17 784.42 M373.62 775.74 L367.26 775.74 L367.26 779.99 L368.85 778.92 L372.03 778.92 L373.62 780.37 L373.62 782.98 L372.03 784.42 L368.85 784.42 L367.26 782.98" fill="none" stroke="#b0b0b0" stroke-width="1.15" stroke-linecap="round" stroke-linejoin="round"/>
<path d="M343.66 797.72 L343.66 789.04 L338.88 793.48 L345.25 793.48 M348.34 789.04 L348.34 797.72 M354.71 789.04 L348.34 794.35 M350.57 792.51 L354.71 797.72 M357.80 789.04 L363.64 789.04 L364.17 789.81 L364.17 790.78 L358.12 797.72 M373.62 789.04 L367.26 789.04 L367.26 793.29 L368.85 792.22 L372.03 792.22 L373.62 793.67 L373.62 796.28 L372.03 797.72 L368.85 797.72 L367.26 796.28" fill="none" stroke="#b0b0b0" stroke-width="1.15" stroke-linecap="round" stroke-linejoin="round"/>
<polyline points="430.4,756.2 430.4,740.8 491.1,740.8 491.1,756.2" fill="none" stroke="#4ba54b" stroke-width="1.15" stroke-linejoin="round" stroke-linecap="round"/>
<polyline points="430.4,776.9 424.5,779.1 436.3,782.9 424.5,786.7 436.3,790.5 424.5,794.3 430.4,796.3" fill="none" stroke="#a54b4b" stroke-width="1.3" stroke-linejoin="round" stroke-linecap="round"/>
<line x1="430.4" y1="756.2" x2="430.4" y2="776.9" stroke="#a54b4b" stroke-width="1.1"/>
<line x1="430.4" y1="796.3" x2="430.4" y2="816.8" stroke="#a54b4b" stroke-width="1.1"/>
<polygon points="437.8,786.6 446,782.7 446,790.5" fill="#a54b4b" stroke="#a54b4b" stroke-width="0.8" stroke-linejoin="round" stroke-linecap="round"/>
<line x1="446" y1="786.6" x2="460.6" y2="786.6" stroke="#a54b4b" stroke-width="1.1"/>
<polyline points="460.6,786.6 460.6,816.8" fill="none" stroke="#4ba54b" stroke-width="1.15" stroke-linejoin="round" stroke-linecap="round"/>
<path d="M439.57 777.72 L439.57 769.04 L444.35 769.04 L445.94 770.49 L445.94 773.00 L444.35 774.44 L439.57 774.44 M442.23 774.44 L445.94 777.72 M449.03 769.04 L454.87 769.04 L455.40 769.81 L455.40 770.78 L449.35 777.72 M460.40 768.07 L460.40 770.49 L458.49 772.13" fill="none" stroke="#b0b0b0" stroke-width="1.15" stroke-linecap="round" stroke-linejoin="round"/>
<path d="M441.07 799.19 L442.67 797.74 L445.85 797.74 L447.44 799.19 L447.44 801.12 L441.07 806.42 L447.44 806.42 M450.53 797.74 L450.53 806.42 M456.90 797.74 L450.53 803.05 M452.76 801.21 L456.90 806.42" fill="none" stroke="#b0b0b0" stroke-width="1.15" stroke-linecap="round" stroke-linejoin="round"/>
<polyline points="491.1,776.9 485.2,779.1 497,782.9 485.2,786.7 497,790.5 485.2,794.3 491.1,796.3" fill="none" stroke="#a54b4b" stroke-width="1.3" stroke-linejoin="round" stroke-linecap="round"/>
<line x1="491.1" y1="756.2" x2="491.1" y2="776.9" stroke="#a54b4b" stroke-width="1.1"/>
<line x1="491.1" y1="796.3" x2="491.1" y2="816.8" stroke="#a54b4b" stroke-width="1.1"/>
<path d="M502.68 791.72 L502.68 783.04 L507.45 783.04 L509.04 784.49 L509.04 787.00 L507.45 788.44 L502.68 788.44 M505.33 788.44 L509.04 791.72 M512.13 783.04 L517.97 783.04 L518.50 783.81 L518.50 784.78 L512.45 791.72" fill="none" stroke="#b0b0b0" stroke-width="1.15" stroke-linecap="round" stroke-linejoin="round"/>
<path d="M499.07 800.03 L502.26 797.14 L502.26 805.82 M499.07 805.82 L505.02 805.82 M508.53 797.14 L508.53 805.82 M514.90 797.14 L508.53 802.45 M510.76 800.61 L514.90 805.82" fill="none" stroke="#b0b0b0" stroke-width="1.15" stroke-linecap="round" stroke-linejoin="round"/>
<line x1="631.4" y1="695.2" x2="656" y2="695.2" stroke="#a54b4b" stroke-width="1.8"/>
<line x1="636.2" y1="691.8" x2="651.2" y2="691.8" stroke="#a54b4b" stroke-width="1.6"/>
<line x1="638.7" y1="688.6" x2="648.7" y2="688.6" stroke="#a54b4b" stroke-width="1.5"/>
<line x1="640.9" y1="685.5" x2="646.5" y2="685.5" stroke="#a54b4b" stroke-width="1.6"/>
<line x1="643.7" y1="695.2" x2="643.7" y2="756.8" stroke="#a54b4b" stroke-width="1.1"/>
<circle cx="643.7" cy="733.4" r="24.6" fill="none" stroke="#a54b4b" stroke-width="1.1"/>
<line x1="635.6" y1="726" x2="651.8" y2="726" stroke="#a54b4b" stroke-width="1.8"/>
<polyline points="635.6,726 643.7,740.7 651.8,726" fill="none" stroke="#a54b4b" stroke-width="1.8" stroke-linejoin="round" stroke-linecap="round"/>
<line x1="635.6" y1="740.7" x2="651.8" y2="740.7" stroke="#a54b4b" stroke-width="1.8"/>
<line x1="631.9" y1="730.6" x2="625.2" y2="737.4" stroke="#a54b4b" stroke-width="1.3"/>
<polygon points="623.45,739.18 625.87,732.45 630.14,736.66" fill="#a54b4b" stroke="#a54b4b" stroke-width="0.6" stroke-linejoin="round" stroke-linecap="round"/>
<line x1="632.6" y1="737.7" x2="625.9" y2="744.5" stroke="#a54b4b" stroke-width="1.3"/>
<polygon points="624.15,746.28 626.57,739.55 630.84,743.76" fill="#a54b4b" stroke="#a54b4b" stroke-width="0.6" stroke-linejoin="round" stroke-linecap="round"/>
<polyline points="643.7,777.1 637.8,779.3 649.6,783.1 637.8,786.9 649.6,790.7 637.8,794.5 643.7,796.5" fill="none" stroke="#a54b4b" stroke-width="1.3" stroke-linejoin="round" stroke-linecap="round"/>
<line x1="643.7" y1="756.8" x2="643.7" y2="777.1" stroke="#a54b4b" stroke-width="1.1"/>
<line x1="643.7" y1="796.5" x2="643.7" y2="816.8" stroke="#a54b4b" stroke-width="1.1"/>
<path d="M576.58 731.84 L576.58 740.52 L582.95 740.52 M592.41 731.84 L586.04 731.84 L586.04 740.52 L592.41 740.52 M586.04 736.18 L590.29 736.18 M595.50 731.84 L600.28 731.84 L601.87 733.29 L601.87 739.08 L600.28 740.52 L595.50 740.52 L595.50 731.84 M604.96 733.29 L606.55 731.84 L609.73 731.84 L611.32 733.29 L611.32 735.22 L604.96 740.52 L611.32 740.52" fill="none" stroke="#b0b0b0" stroke-width="1.15" stroke-linecap="round" stroke-linejoin="round"/>
<path d="M582.24 754.12 L582.24 745.44 L587.02 745.44 L588.61 746.89 L588.61 749.40 L587.02 750.84 L582.24 750.84 M584.90 750.84 L588.61 754.12 M598.07 745.44 L591.70 745.44 L591.70 754.12 L598.07 754.12 M591.70 749.78 L595.94 749.78 M601.16 745.44 L605.93 745.44 L607.52 746.89 L607.52 752.68 L605.93 754.12 L601.16 754.12 L601.16 745.44" fill="none" stroke="#b0b0b0" stroke-width="1.15" stroke-linecap="round" stroke-linejoin="round"/>
<path d="M608.94 784.72 L608.94 776.04 L613.72 776.04 L615.31 777.49 L615.31 780.00 L613.72 781.44 L608.94 781.44 M611.60 781.44 L615.31 784.72 M618.40 777.49 L619.99 776.04 L623.18 776.04 L624.77 777.49 L624.77 779.42 L618.40 784.72 L624.77 784.72 M629.45 776.04 L632.63 776.04 L634.22 777.49 L634.22 778.74 L632.63 780.09 L629.45 780.09 L627.86 778.74 L627.86 777.49 L629.45 776.04 M629.45 780.09 L627.86 781.54 L627.86 783.28 L629.45 784.72 L632.63 784.72 L634.22 783.28 L634.22 781.54 L632.63 780.09" fill="none" stroke="#b0b0b0" stroke-width="1.15" stroke-linecap="round" stroke-linejoin="round"/>
<path d="M613.72 797.52 L613.72 788.84 L608.94 793.28 L615.31 793.28 M618.40 788.84 L618.40 797.52 M624.77 788.84 L618.40 794.15 M620.63 792.31 L624.77 797.52 M627.86 788.84 L633.69 788.84 L634.22 789.61 L634.22 790.58 L628.17 797.52" fill="none" stroke="#b0b0b0" stroke-width="1.15" stroke-linecap="round" stroke-linejoin="round"/>
<polyline points="750.3,259.1 744.4,261.3 756.2,265.1 744.4,268.9 756.2,272.7 744.4,276.5 750.3,278.5" fill="none" stroke="#a54b4b" stroke-width="1.3" stroke-linejoin="round" stroke-linecap="round"/>
<line x1="750.3" y1="238.1" x2="750.3" y2="259.1" stroke="#a54b4b" stroke-width="1.1"/>
<line x1="750.3" y1="278.5" x2="750.3" y2="299.3" stroke="#a54b4b" stroke-width="1.1"/>
<path d="M761.28 266.82 L761.28 258.14 L766.05 258.14 L767.64 259.59 L767.64 262.10 L766.05 263.54 L761.28 263.54 M763.93 263.54 L767.64 266.82 M770.73 259.59 L772.32 258.14 L775.51 258.14 L777.10 259.59 L777.10 261.52 L770.73 266.82 L777.10 266.82 M786.56 258.14 L780.19 258.14 L780.19 262.39 L781.78 261.32 L784.97 261.32 L786.56 262.77 L786.56 265.38 L784.97 266.82 L781.78 266.82 L780.19 265.38" fill="none" stroke="#b0b0b0" stroke-width="1.15" stroke-linecap="round" stroke-linejoin="round"/>
<path d="M761.28 275.03 L764.46 272.14 L764.46 280.82 M761.28 280.82 L767.22 280.82 M770.73 272.14 L770.73 280.82 M777.10 272.14 L770.73 277.45 M772.96 275.61 L777.10 280.82 M786.56 272.14 L780.19 272.14 L780.19 276.39 L781.78 275.32 L784.97 275.32 L786.56 276.77 L786.56 279.38 L784.97 280.82 L781.78 280.82 L780.19 279.38" fill="none" stroke="#b0b0b0" stroke-width="1.15" stroke-linecap="round" stroke-linejoin="round"/>
<polyline points="750.3,319.9 744.4,322.1 756.2,325.9 744.4,329.7 756.2,333.5 744.4,337.3 750.3,339.3" fill="none" stroke="#a54b4b" stroke-width="1.3" stroke-linejoin="round" stroke-linecap="round"/>
<line x1="750.3" y1="299.3" x2="750.3" y2="319.9" stroke="#a54b4b" stroke-width="1.1"/>
<line x1="750.3" y1="339.3" x2="750.3" y2="360.2" stroke="#a54b4b" stroke-width="1.1"/>
<path d="M761.28 327.82 L761.28 319.14 L766.05 319.14 L767.64 320.59 L767.64 323.10 L766.05 324.54 L761.28 324.54 M763.93 324.54 L767.64 327.82 M770.73 320.59 L772.32 319.14 L775.51 319.14 L777.10 320.59 L777.10 322.52 L770.73 327.82 L777.10 327.82 M786.56 319.14 L781.57 322.42 L780.19 323.96 L780.19 326.38 L781.78 327.82 L784.97 327.82 L786.56 326.38 L786.56 324.16 L784.97 322.71 L781.78 322.71 L780.19 324.16" fill="none" stroke="#b0b0b0" stroke-width="1.15" stroke-linecap="round" stroke-linejoin="round"/>
<path d="M758.38 334.29 L759.97 332.84 L763.15 332.84 L764.74 334.29 L764.74 335.74 L763.15 337.09 L761.03 337.09 M763.15 337.09 L764.74 338.53 L764.74 340.08 L763.15 341.53 L759.97 341.53 L758.38 340.08 M767.83 332.84 L767.83 341.53 M774.20 332.84 L767.83 338.15 M770.06 336.31 L774.20 341.53 M777.29 334.29 L778.88 332.84 L782.07 332.84 L783.66 334.29 L783.66 335.74 L782.07 337.09 L779.94 337.09 M782.07 337.09 L783.66 338.53 L783.66 340.08 L782.07 341.53 L778.88 341.53 L777.29 340.08 M786.75 334.29 L788.34 332.84 L791.52 332.84 L793.12 334.29 L793.12 336.22 L786.75 341.53 L793.12 341.53" fill="none" stroke="#b0b0b0" stroke-width="1.15" stroke-linecap="round" stroke-linejoin="round"/>
<polyline points="750.3,299.3 841.8,299.3" fill="none" stroke="#4ba54b" stroke-width="1.15" stroke-linejoin="round" stroke-linecap="round"/>
<line x1="842.05" y1="299.3" x2="860.85" y2="299.3" stroke="#a54b4b" stroke-width="1.1"/>
<line x1="868.45" y1="299.3" x2="887.25" y2="299.3" stroke="#a54b4b" stroke-width="1.1"/>
<line x1="860.85" y1="283.9" x2="860.85" y2="314.7" stroke="#a54b4b" stroke-width="2"/>
<line x1="868.45" y1="283.9" x2="868.45" y2="314.7" stroke="#a54b4b" stroke-width="2"/>
<line x1="853.55" y1="310.7" x2="857.95" y2="310.7" stroke="#a54b4b" stroke-width="1.2"/>
<line x1="855.75" y1="308.5" x2="855.75" y2="312.9" stroke="#a54b4b" stroke-width="1.2"/>
<path d="M865.34 266.89 L863.75 265.44 L860.57 265.44 L858.98 266.89 L858.98 272.68 L860.57 274.12 L863.75 274.12 L865.34 272.68 M868.43 266.89 L870.02 265.44 L873.21 265.44 L874.80 266.89 L874.80 268.82 L868.43 274.12 L874.80 274.12" fill="none" stroke="#b0b0b0" stroke-width="1.15" stroke-linecap="round" stroke-linejoin="round"/>
<path d="M873.78 279.89 L875.37 278.44 L878.55 278.44 L880.14 279.89 L880.14 281.82 L873.78 287.12 L880.14 287.12 M883.23 279.89 L884.82 278.44 L888.01 278.44 L889.60 279.89 L889.60 281.82 L883.23 287.12 L889.60 287.12 M894.28 278.44 L897.47 278.44 L899.06 279.89 L899.06 285.68 L897.47 287.12 L894.28 287.12 L892.69 285.68 L892.69 279.89 L894.28 278.44 M893.33 285.19 L898.42 280.37 M902.15 281.33 L902.15 285.68 L903.74 287.12 L908.52 287.12 M908.52 281.33 L908.52 287.12 M917.97 278.44 L913.20 278.44 L911.60 279.89 L911.60 287.12 M911.60 282.59 L915.85 282.59" fill="none" stroke="#b0b0b0" stroke-width="1.15" stroke-linecap="round" stroke-linejoin="round"/>
<polyline points="887.5,299.3 1146.6,299.3" fill="none" stroke="#4ba54b" stroke-width="1.15" stroke-linejoin="round" stroke-linecap="round"/>
<polyline points="841.8,299.3 841.8,344.4" fill="none" stroke="#4ba54b" stroke-width="1.15" stroke-linejoin="round" stroke-linecap="round"/>
<line x1="842.05" y1="344.4" x2="860.85" y2="344.4" stroke="#a54b4b" stroke-width="1.1"/>
<line x1="868.45" y1="344.4" x2="887.25" y2="344.4" stroke="#a54b4b" stroke-width="1.1"/>
<line x1="860.85" y1="329" x2="860.85" y2="359.8" stroke="#a54b4b" stroke-width="2"/>
<line x1="868.45" y1="329" x2="868.45" y2="359.8" stroke="#a54b4b" stroke-width="2"/>
<polyline points="887.5,344.4 887.5,299.3" fill="none" stroke="#4ba54b" stroke-width="1.15" stroke-linejoin="round" stroke-linecap="round"/>
<path d="M880.64 361.79 L879.05 360.34 L875.87 360.34 L874.28 361.79 L874.28 367.58 L875.87 369.03 L879.05 369.03 L880.64 367.58 M883.73 360.34 L889.57 360.34 L890.10 361.11 L890.10 362.08 L884.05 369.03" fill="none" stroke="#b0b0b0" stroke-width="1.15" stroke-linecap="round" stroke-linejoin="round"/>
<polyline points="750.3,360.2 826.4,360.2 826.4,390.4 998.1,390.4" fill="none" stroke="#4ba54b" stroke-width="1.15" stroke-linejoin="round" stroke-linecap="round"/>
<polyline points="796.1,380.9 790.2,383.1 802,386.9 790.2,390.7 802,394.5 790.2,398.3 796.1,400.3" fill="none" stroke="#a54b4b" stroke-width="1.3" stroke-linejoin="round" stroke-linecap="round"/>
<line x1="796.1" y1="360.2" x2="796.1" y2="380.9" stroke="#a54b4b" stroke-width="1.1"/>
<line x1="796.1" y1="400.3" x2="796.1" y2="420.8" stroke="#a54b4b" stroke-width="1.1"/>
<path d="M751.18 393.73 L751.18 385.04 L755.96 385.04 L757.55 386.49 L757.55 389.00 L755.96 390.44 L751.18 390.44 M753.84 390.44 L757.55 393.73 M760.64 386.49 L762.23 385.04 L765.42 385.04 L767.01 386.49 L767.01 388.42 L760.64 393.73 L767.01 393.73 M770.10 385.04 L775.94 385.04 L776.47 385.81 L776.47 386.78 L770.42 393.73 M779.56 393.73 L779.56 388.22 L782.74 385.04 L785.92 388.22 L785.92 393.73 M779.56 389.67 L785.92 389.67" fill="none" stroke="#b0b0b0" stroke-width="1.15" stroke-linecap="round" stroke-linejoin="round"/>
<path d="M3.76 -9.26 L6.94 -9.26 M5.35 -9.26 L5.35 -2.02 L3.76 -0.57 L2.17 -0.57 L0.57 -2.02 M10.03 -6.37 L10.03 -2.02 L11.62 -0.57 L16.40 -0.57 M16.40 -6.37 L16.40 -0.57 M19.49 -6.37 L19.49 -0.57 M19.49 -4.92 L21.08 -6.37 L21.72 -6.37 L23.20 -4.92 L23.20 -0.57 M23.20 -4.92 L24.69 -6.37 L25.33 -6.37 L26.92 -4.92 L26.92 -0.57 M30.01 2.03 L30.01 -4.92 L31.60 -6.37 L34.78 -6.37 L36.38 -4.92 L36.38 -2.02 L34.78 -0.57 L30.01 -0.57 M39.46 -3.47 L45.83 -3.47 L45.83 -4.92 L44.24 -6.37 L41.06 -6.37 L39.46 -4.92 L39.46 -2.02 L41.06 -0.57 L44.77 -0.57 M48.92 -6.37 L48.92 -0.57 M48.92 -4.43 L51.04 -6.37 L54.23 -6.37" fill="none" stroke="#b0b0b0" stroke-width="1.15" stroke-linecap="round" stroke-linejoin="round" transform="translate(817.4,417.7) rotate(-90)"/>
<polyline points="796.1,420.8 826.4,420.8" fill="none" stroke="#4ba54b" stroke-width="1.15" stroke-linejoin="round" stroke-linecap="round"/>
<polyline points="826.4,442.4 820.5,444.6 832.3,448.4 820.5,452.2 832.3,456 820.5,459.8 826.4,461.8" fill="none" stroke="#a54b4b" stroke-width="1.3" stroke-linejoin="round" stroke-linecap="round"/>
<line x1="826.4" y1="420.8" x2="826.4" y2="442.4" stroke="#a54b4b" stroke-width="1.1"/>
<line x1="826.4" y1="461.8" x2="826.4" y2="481.4" stroke="#a54b4b" stroke-width="1.1"/>
<polygon points="833.8,451.8 842,447.9 842,455.7" fill="#a54b4b" stroke="#a54b4b" stroke-width="0.8" stroke-linejoin="round" stroke-linecap="round"/>
<line x1="842" y1="451.8" x2="857.1" y2="451.8" stroke="#a54b4b" stroke-width="1.1"/>
<polyline points="857.1,451.8 857.1,573.2 1108.6,573.2" fill="none" stroke="#4ba54b" stroke-width="1.15" stroke-linejoin="round" stroke-linecap="round"/>
<path d="M829.68 431.73 L829.68 423.04 L834.45 423.04 L836.04 424.49 L836.04 427.00 L834.45 428.44 L829.68 428.44 M832.33 428.44 L836.04 431.73 M839.13 424.49 L840.72 423.04 L843.91 423.04 L845.50 424.49 L845.50 426.42 L839.13 431.73 L845.50 431.73 M848.59 423.04 L854.43 423.04 L854.96 423.81 L854.96 424.78 L848.91 431.73 M858.05 427.38 L864.42 427.38" fill="none" stroke="#b0b0b0" stroke-width="1.15" stroke-linecap="round" stroke-linejoin="round"/>
<path d="M833.78 439.03 L836.96 436.14 L836.96 444.82 M833.78 444.82 L839.72 444.82 M844.82 436.14 L848.01 436.14 L849.60 437.59 L849.60 443.38 L848.01 444.82 L844.82 444.82 L843.23 443.38 L843.23 437.59 L844.82 436.14 M843.87 442.89 L848.96 438.07 M854.28 436.14 L857.47 436.14 L859.06 437.59 L859.06 443.38 L857.47 444.82 L854.28 444.82 L852.69 443.38 L852.69 437.59 L854.28 436.14 M853.33 442.89 L858.42 438.07 M862.15 436.14 L862.15 444.82 M868.52 436.14 L862.15 441.45 M864.38 439.61 L868.52 444.82" fill="none" stroke="#b0b0b0" stroke-width="1.15" stroke-linecap="round" stroke-linejoin="round"/>
<polyline points="796.1,442.4 790.2,444.6 802,448.4 790.2,452.2 802,456 790.2,459.8 796.1,461.8" fill="none" stroke="#a54b4b" stroke-width="1.3" stroke-linejoin="round" stroke-linecap="round"/>
<line x1="796.1" y1="420.8" x2="796.1" y2="442.4" stroke="#a54b4b" stroke-width="1.1"/>
<line x1="796.1" y1="461.8" x2="796.1" y2="481.4" stroke="#a54b4b" stroke-width="1.1"/>
<path d="M754.68 442.73 L754.68 434.04 L759.46 434.04 L761.05 435.49 L761.05 438.00 L759.46 439.44 L754.68 439.44 M757.34 439.44 L761.05 442.73 M764.14 435.49 L765.73 434.04 L768.92 434.04 L770.51 435.49 L770.51 437.42 L764.14 442.73 L770.51 442.73 M773.60 434.04 L779.44 434.04 L779.97 434.81 L779.97 435.78 L773.92 442.73 M783.06 434.04 L787.83 434.04 L789.42 435.49 L789.42 436.74 L787.83 438.19 L783.06 438.19 M787.83 438.19 L789.42 439.64 L789.42 441.28 L787.83 442.73 L783.06 442.73 L783.06 434.04" fill="none" stroke="#b0b0b0" stroke-width="1.15" stroke-linecap="round" stroke-linejoin="round"/>
<path d="M767.01 447.54 L762.02 450.82 L760.64 452.37 L760.64 454.78 L762.23 456.23 L765.42 456.23 L767.01 454.78 L767.01 452.56 L765.42 451.11 L762.23 451.11 L760.64 452.56 M771.69 447.54 L774.88 447.54 L776.47 448.99 L776.47 450.24 L774.88 451.59 L771.69 451.59 L770.10 450.24 L770.10 448.99 L771.69 447.54 M771.69 451.59 L770.10 453.04 L770.10 454.78 L771.69 456.23 L774.88 456.23 L776.47 454.78 L776.47 453.04 L774.88 451.59 M779.56 447.54 L779.56 456.23 M785.92 447.54 L779.56 452.85 M781.79 451.01 L785.92 456.23" fill="none" stroke="#b0b0b0" stroke-width="1.15" stroke-linecap="round" stroke-linejoin="round"/>
<polyline points="780.7,481.4 856.9,481.4" fill="none" stroke="#4ba54b" stroke-width="1.15" stroke-linejoin="round" stroke-linecap="round"/>
<rect x="762.6" y="467.1" width="5.2" height="30.1" fill="#a54b4b"/>
<line x1="767.8" y1="481.4" x2="780.7" y2="481.4" stroke="#a54b4b" stroke-width="1.1"/>
<line x1="762.6" y1="472.7" x2="750.1" y2="466.6" stroke="#a54b4b" stroke-width="1.2"/>
<line x1="750.1" y1="466.6" x2="750.1" y2="451.7" stroke="#a54b4b" stroke-width="1.1"/>
<line x1="762.6" y1="490.9" x2="752" y2="496.4" stroke="#a54b4b" stroke-width="1.2"/>
<polygon points="750.1,497.4 754.9,490.8 757.9,497.2" fill="#a54b4b" stroke="#a54b4b" stroke-width="0.6" stroke-linejoin="round" stroke-linecap="round"/>
<line x1="750.1" y1="497.4" x2="750.1" y2="512.3" stroke="#a54b4b" stroke-width="1.1"/>
<path d="M728.79 476.24 L731.98 476.24 L733.57 477.69 L733.57 483.48 L731.98 484.93 L728.79 484.93 L727.20 483.48 L727.20 477.69 L728.79 476.24 M730.38 482.03 L733.14 484.73 M741.43 484.93 L741.43 476.24 L736.66 480.68 L743.02 480.68" fill="none" stroke="#b0b0b0" stroke-width="1.15" stroke-linecap="round" stroke-linejoin="round"/>
<polyline points="750.3,360.2 750.3,451.7" fill="none" stroke="#4ba54b" stroke-width="1.15" stroke-linejoin="round" stroke-linecap="round"/>
<polyline points="750.1,512.3 750.1,542.9 1146.6,542.9 1146.6,299.3" fill="none" stroke="#4ba54b" stroke-width="1.15" stroke-linejoin="round" stroke-linecap="round"/>
<polyline points="872.3,411.4 866.4,413.6 878.2,417.4 866.4,421.2 878.2,425 866.4,428.8 872.3,430.8" fill="none" stroke="#a54b4b" stroke-width="1.3" stroke-linejoin="round" stroke-linecap="round"/>
<line x1="872.3" y1="390.4" x2="872.3" y2="411.4" stroke="#a54b4b" stroke-width="1.1"/>
<line x1="872.3" y1="430.8" x2="872.3" y2="451.5" stroke="#a54b4b" stroke-width="1.1"/>
<path d="M883.98 420.62 L883.98 411.94 L888.75 411.94 L890.34 413.39 L890.34 415.90 L888.75 417.34 L883.98 417.34 M886.63 417.34 L890.34 420.62 M899.80 415.99 L895.02 415.99 L893.43 414.64 L893.43 413.39 L895.02 411.94 L898.21 411.94 L899.80 413.39 L899.80 419.18 L898.21 420.62 L895.02 420.62 L893.64 419.66" fill="none" stroke="#b0b0b0" stroke-width="1.15" stroke-linecap="round" stroke-linejoin="round"/>
<path d="M883.98 426.19 L885.57 424.74 L888.75 424.74 L890.34 426.19 L890.34 428.12 L883.98 433.43 L890.34 433.43 M893.43 426.19 L895.02 424.74 L898.21 424.74 L899.80 426.19 L899.80 428.12 L893.43 433.43 L899.80 433.43 M902.89 427.63 L906.07 424.74 L906.07 433.43 M902.89 433.43 L908.83 433.43" fill="none" stroke="#b0b0b0" stroke-width="1.15" stroke-linecap="round" stroke-linejoin="round"/>
<polyline points="872.3,451.5 907.2,451.5" fill="none" stroke="#4ba54b" stroke-width="1.15" stroke-linejoin="round" stroke-linecap="round"/>
<line x1="914.9" y1="421.3" x2="914.9" y2="452.2" stroke="#a54b4b" stroke-width="1.7"/>
<line x1="907.2" y1="451.5" x2="914.9" y2="451.5" stroke="#a54b4b" stroke-width="1.1"/>
<rect x="920.1" y="421.6" width="5.1" height="7" fill="#a54b4b"/>
<rect x="920.1" y="431.3" width="5.1" height="10.2" fill="#a54b4b"/>
<rect x="920.1" y="444.3" width="5.1" height="7.4" fill="#a54b4b"/>
<polyline points="925.2,424.5 944.8,424.5 944.8,447.6 925.2,447.6" fill="none" stroke="#a54b4b" stroke-width="1.1" stroke-linejoin="round" stroke-linecap="round"/>
<line x1="937.3" y1="424.5" x2="937.3" y2="406.3" stroke="#a54b4b" stroke-width="1.1"/>
<polygon points="944.8,432.6 941.2,437.6 948.4,437.6" fill="#a54b4b" stroke="#a54b4b" stroke-width="0.6" stroke-linejoin="round" stroke-linecap="round"/>
<line x1="941.2" y1="432.6" x2="948.4" y2="432.6" stroke="#a54b4b" stroke-width="1.2"/>
<polygon points="925.2,436.3 933,433.1 933,439.5" fill="#a54b4b" stroke="#a54b4b" stroke-width="0.6" stroke-linejoin="round" stroke-linecap="round"/>
<polyline points="933,436.3 937.3,436.3 937.3,447.6" fill="none" stroke="#a54b4b" stroke-width="1.1" stroke-linejoin="round" stroke-linecap="round"/>
<rect x="935.4" y="445.7" width="3.8" height="3.8" transform="rotate(45 937.3 447.6)" fill="#a54b4b"/>
<line x1="937.3" y1="447.6" x2="937.3" y2="466.7" stroke="#a54b4b" stroke-width="1.1"/>
<path d="M953.87 430.44 L957.05 430.44 L958.64 431.89 L958.64 437.68 L957.05 439.12 L953.87 439.12 L952.28 437.68 L952.28 431.89 L953.87 430.44 M955.46 436.23 L958.22 438.93 M968.10 430.44 L961.73 430.44 L961.73 434.69 L963.32 433.62 L966.51 433.62 L968.10 435.07 L968.10 437.68 L966.51 439.12 L963.32 439.12 L961.73 437.68" fill="none" stroke="#b0b0b0" stroke-width="1.15" stroke-linecap="round" stroke-linejoin="round"/>
<polyline points="937.3,238.1 937.3,406.3" fill="none" stroke="#4ba54b" stroke-width="1.15" stroke-linejoin="round" stroke-linecap="round"/>
<polyline points="937.3,466.7 937.3,482.1" fill="none" stroke="#4ba54b" stroke-width="1.15" stroke-linejoin="round" stroke-linecap="round"/>
<polyline points="877.8,482.1 880,488 883.8,476.2 887.6,488 891.4,476.2 895.2,488 897.2,482.1" fill="none" stroke="#a54b4b" stroke-width="1.3" stroke-linejoin="round" stroke-linecap="round"/>
<line x1="857.1" y1="482.1" x2="877.8" y2="482.1" stroke="#a54b4b" stroke-width="1.1"/>
<line x1="897.2" y1="482.1" x2="917.6" y2="482.1" stroke="#a54b4b" stroke-width="1.1"/>
<polyline points="917.6,482.1 937.3,482.1" fill="none" stroke="#4ba54b" stroke-width="1.15" stroke-linejoin="round" stroke-linecap="round"/>
<path d="M876.88 465.74 L880.06 462.84 L880.06 471.53 M876.88 471.53 L882.82 471.53 M886.33 462.84 L886.33 471.53 M892.70 462.84 L886.33 468.15 M888.56 466.31 L892.70 471.53" fill="none" stroke="#b0b0b0" stroke-width="1.15" stroke-linecap="round" stroke-linejoin="round"/>
<path d="M871.68 500.12 L871.68 491.44 L876.45 491.44 L878.04 492.89 L878.04 495.40 L876.45 496.84 L871.68 496.84 M874.33 496.84 L878.04 500.12 M881.13 494.33 L884.32 491.44 L884.32 500.12 M881.13 500.12 L887.08 500.12 M896.96 491.44 L890.59 491.44 L890.59 495.69 L892.18 494.62 L895.37 494.62 L896.96 496.07 L896.96 498.68 L895.37 500.12 L892.18 500.12 L890.59 498.68" fill="none" stroke="#b0b0b0" stroke-width="1.15" stroke-linecap="round" stroke-linejoin="round"/>
<polyline points="937.3,502.8 931.4,505 943.2,508.8 931.4,512.6 943.2,516.4 931.4,520.2 937.3,522.2" fill="none" stroke="#a54b4b" stroke-width="1.3" stroke-linejoin="round" stroke-linecap="round"/>
<line x1="937.3" y1="482.1" x2="937.3" y2="502.8" stroke="#a54b4b" stroke-width="1.1"/>
<line x1="937.3" y1="522.2" x2="937.3" y2="542.9" stroke="#a54b4b" stroke-width="1.1"/>
<path d="M951.18 507.93 L951.18 499.24 L955.95 499.24 L957.54 500.69 L957.54 503.20 L955.95 504.64 L951.18 504.64 M953.83 504.64 L957.54 507.93 M960.63 502.13 L963.82 499.24 L963.82 507.93 M960.63 507.93 L966.58 507.93 M976.46 499.24 L971.47 502.52 L970.09 504.06 L970.09 506.48 L971.68 507.93 L974.87 507.93 L976.46 506.48 L976.46 504.26 L974.87 502.81 L971.68 502.81 L970.09 504.26" fill="none" stroke="#b0b0b0" stroke-width="1.15" stroke-linecap="round" stroke-linejoin="round"/>
<path d="M955.78 524.82 L955.78 516.14 L951.00 520.58 L957.37 520.58 M960.46 516.14 L966.30 516.14 L966.83 516.91 L966.83 517.88 L960.78 524.82 M979.37 517.59 L980.96 516.14 L984.15 516.14 L985.74 517.59 L985.74 519.03 L984.15 520.39 L982.02 520.39 M984.15 520.39 L985.74 521.83 L985.74 523.38 L984.15 524.82 L980.96 524.82 L979.37 523.38 M988.83 516.14 L988.83 524.82 L992.01 522.12 L995.20 524.82 L995.20 516.14" fill="none" stroke="#b0b0b0" stroke-width="1.15" stroke-linecap="round" stroke-linejoin="round"/><circle cx="947.56" cy="524.54" r="1.21" fill="#b0b0b0"/>
<polyline points="937.3,542.9 937.3,680.4" fill="none" stroke="#4ba54b" stroke-width="1.15" stroke-linejoin="round" stroke-linecap="round"/>
<polyline points="998.1,411.7 992.2,413.9 1004,417.7 992.2,421.5 1004,425.3 992.2,429.1 998.1,431.1" fill="none" stroke="#a54b4b" stroke-width="1.3" stroke-linejoin="round" stroke-linecap="round"/>
<line x1="998.1" y1="390.4" x2="998.1" y2="411.7" stroke="#a54b4b" stroke-width="1.1"/>
<line x1="998.1" y1="431.1" x2="998.1" y2="451.4" stroke="#a54b4b" stroke-width="1.1"/>
<path d="M1008.68 420.73 L1008.68 412.04 L1013.45 412.04 L1015.04 413.49 L1015.04 416.00 L1013.45 417.44 L1008.68 417.44 M1011.33 417.44 L1015.04 420.73 M1018.13 414.94 L1021.32 412.04 L1021.32 420.73 M1018.13 420.73 L1024.08 420.73 M1029.18 412.04 L1032.37 412.04 L1033.96 413.49 L1033.96 419.28 L1032.37 420.73 L1029.18 420.73 L1027.59 419.28 L1027.59 413.49 L1029.18 412.04 M1028.23 418.80 L1033.32 413.97" fill="none" stroke="#b0b0b0" stroke-width="1.15" stroke-linecap="round" stroke-linejoin="round"/>
<path d="M1008.68 426.19 L1010.27 424.74 L1013.45 424.74 L1015.04 426.19 L1015.04 428.12 L1008.68 433.43 L1015.04 433.43 M1018.13 426.19 L1019.72 424.74 L1022.91 424.74 L1024.50 426.19 L1024.50 428.12 L1018.13 433.43 L1024.50 433.43 M1027.59 427.63 L1030.77 424.74 L1030.77 433.43 M1027.59 433.43 L1033.53 433.43" fill="none" stroke="#b0b0b0" stroke-width="1.15" stroke-linecap="round" stroke-linejoin="round"/>
<polyline points="998.1,451.4 1040.5,451.4" fill="none" stroke="#4ba54b" stroke-width="1.15" stroke-linejoin="round" stroke-linecap="round"/>
<line x1="1048.2" y1="421.5" x2="1048.2" y2="452.4" stroke="#a54b4b" stroke-width="1.7"/>
<line x1="1040.5" y1="451.7" x2="1048.2" y2="451.7" stroke="#a54b4b" stroke-width="1.1"/>
<rect x="1053.4" y="421.8" width="5.1" height="7" fill="#a54b4b"/>
<rect x="1053.4" y="431.5" width="5.1" height="10.2" fill="#a54b4b"/>
<rect x="1053.4" y="444.5" width="5.1" height="7.4" fill="#a54b4b"/>
<polyline points="1058.5,424.7 1077.8,424.7 1077.8,447.8 1058.5,447.8" fill="none" stroke="#a54b4b" stroke-width="1.1" stroke-linejoin="round" stroke-linecap="round"/>
<line x1="1070.3" y1="424.7" x2="1070.3" y2="406.5" stroke="#a54b4b" stroke-width="1.1"/>
<polygon points="1077.8,432.8 1074.2,437.8 1081.4,437.8" fill="#a54b4b" stroke="#a54b4b" stroke-width="0.6" stroke-linejoin="round" stroke-linecap="round"/>
<line x1="1074.2" y1="432.8" x2="1081.4" y2="432.8" stroke="#a54b4b" stroke-width="1.2"/>
<polygon points="1058.5,436.5 1066,433.3 1066,439.7" fill="#a54b4b" stroke="#a54b4b" stroke-width="0.6" stroke-linejoin="round" stroke-linecap="round"/>
<polyline points="1066,436.5 1070.3,436.5 1070.3,447.8" fill="none" stroke="#a54b4b" stroke-width="1.1" stroke-linejoin="round" stroke-linecap="round"/>
<rect x="1068.4" y="445.9" width="3.8" height="3.8" transform="rotate(45 1070.3 447.8)" fill="#a54b4b"/>
<line x1="1070.3" y1="447.8" x2="1070.3" y2="466.9" stroke="#a54b4b" stroke-width="1.1"/>
<path d="M1087.27 434.24 L1090.45 434.24 L1092.04 435.69 L1092.04 441.48 L1090.45 442.93 L1087.27 442.93 L1085.67 441.48 L1085.67 435.69 L1087.27 434.24 M1088.86 440.03 L1091.62 442.73 M1101.50 434.24 L1096.51 437.52 L1095.13 439.06 L1095.13 441.48 L1096.72 442.93 L1099.91 442.93 L1101.50 441.48 L1101.50 439.26 L1099.91 437.81 L1096.72 437.81 L1095.13 439.26" fill="none" stroke="#b0b0b0" stroke-width="1.15" stroke-linecap="round" stroke-linejoin="round"/>
<polyline points="1070.3,238.1 1070.3,406.3" fill="none" stroke="#4ba54b" stroke-width="1.15" stroke-linejoin="round" stroke-linecap="round"/>
<polyline points="1070.3,466.6 1070.3,482.1" fill="none" stroke="#4ba54b" stroke-width="1.15" stroke-linejoin="round" stroke-linecap="round"/>
<polyline points="1070.3,502.8 1064.4,505 1076.2,508.8 1064.4,512.6 1076.2,516.4 1064.4,520.2 1070.3,522.2" fill="none" stroke="#a54b4b" stroke-width="1.3" stroke-linejoin="round" stroke-linecap="round"/>
<line x1="1070.3" y1="482.1" x2="1070.3" y2="502.8" stroke="#a54b4b" stroke-width="1.1"/>
<line x1="1070.3" y1="522.2" x2="1070.3" y2="542.9" stroke="#a54b4b" stroke-width="1.1"/>
<path d="M1081.38 506.43 L1081.38 497.74 L1086.15 497.74 L1087.74 499.19 L1087.74 501.70 L1086.15 503.14 L1081.38 503.14 M1084.03 503.14 L1087.74 506.43 M1090.83 500.63 L1094.02 497.74 L1094.02 506.43 M1090.83 506.43 L1096.78 506.43 M1100.29 497.74 L1106.13 497.74 L1106.66 498.51 L1106.66 499.48 L1100.61 506.43" fill="none" stroke="#b0b0b0" stroke-width="1.15" stroke-linecap="round" stroke-linejoin="round"/>
<path d="M1089.88 520.22 L1089.88 511.54 L1085.10 515.98 L1091.47 515.98 M1094.56 511.54 L1100.40 511.54 L1100.93 512.31 L1100.93 513.28 L1094.88 520.22 M1113.47 512.99 L1115.06 511.54 L1118.25 511.54 L1119.84 512.99 L1119.84 514.43 L1118.25 515.79 L1116.12 515.79 M1118.25 515.79 L1119.84 517.23 L1119.84 518.78 L1118.25 520.22 L1115.06 520.22 L1113.47 518.78 M1122.93 511.54 L1122.93 520.22 L1126.11 517.52 L1129.30 520.22 L1129.30 511.54" fill="none" stroke="#b0b0b0" stroke-width="1.15" stroke-linecap="round" stroke-linejoin="round"/><circle cx="1081.66" cy="519.94" r="1.21" fill="#b0b0b0"/>
<polyline points="1070.3,542.9 1070.3,680.4" fill="none" stroke="#4ba54b" stroke-width="1.15" stroke-linejoin="round" stroke-linecap="round"/>
<polyline points="1167.35,299.2 1169.55,305.1 1173.35,293.3 1177.15,305.1 1180.95,293.3 1184.75,305.1 1186.75,299.2" fill="none" stroke="#a54b4b" stroke-width="1.3" stroke-linejoin="round" stroke-linecap="round"/>
<line x1="1146.6" y1="299.2" x2="1167.35" y2="299.2" stroke="#a54b4b" stroke-width="1.1"/>
<line x1="1186.75" y1="299.2" x2="1207.5" y2="299.2" stroke="#a54b4b" stroke-width="1.1"/>
<path d="M1161.98 289.82 L1161.98 281.14 L1166.75 281.14 L1168.34 282.59 L1168.34 285.10 L1166.75 286.54 L1161.98 286.54 M1164.63 286.54 L1168.34 289.82 M1171.43 282.59 L1173.02 281.14 L1176.21 281.14 L1177.80 282.59 L1177.80 284.52 L1171.43 289.82 L1177.80 289.82 M1182.48 281.14 L1185.67 281.14 L1187.26 282.59 L1187.26 288.38 L1185.67 289.82 L1182.48 289.82 L1180.89 288.38 L1180.89 282.59 L1182.48 281.14 M1181.53 287.89 L1186.62 283.07" fill="none" stroke="#b0b0b0" stroke-width="1.15" stroke-linecap="round" stroke-linejoin="round"/>
<polyline points="1167.35,344.7 1169.55,350.6 1173.35,338.8 1177.15,350.6 1180.95,338.8 1184.75,350.6 1186.75,344.7" fill="none" stroke="#a54b4b" stroke-width="1.3" stroke-linejoin="round" stroke-linecap="round"/>
<line x1="1146.6" y1="344.7" x2="1167.35" y2="344.7" stroke="#a54b4b" stroke-width="1.1"/>
<line x1="1186.75" y1="344.7" x2="1207.5" y2="344.7" stroke="#a54b4b" stroke-width="1.1"/>
<path d="M1161.98 335.32 L1161.98 326.64 L1166.75 326.64 L1168.34 328.09 L1168.34 330.60 L1166.75 332.04 L1161.98 332.04 M1164.63 332.04 L1168.34 335.32 M1171.43 328.09 L1173.02 326.64 L1176.21 326.64 L1177.80 328.09 L1177.80 330.02 L1171.43 335.32 L1177.80 335.32 M1180.89 329.53 L1184.07 326.64 L1184.07 335.32 M1180.89 335.32 L1186.83 335.32" fill="none" stroke="#b0b0b0" stroke-width="1.15" stroke-linecap="round" stroke-linejoin="round"/>
<polyline points="1167.35,390.4 1169.55,396.3 1173.35,384.5 1177.15,396.3 1180.95,384.5 1184.75,396.3 1186.75,390.4" fill="none" stroke="#a54b4b" stroke-width="1.3" stroke-linejoin="round" stroke-linecap="round"/>
<line x1="1146.6" y1="390.4" x2="1167.35" y2="390.4" stroke="#a54b4b" stroke-width="1.1"/>
<line x1="1186.75" y1="390.4" x2="1207.5" y2="390.4" stroke="#a54b4b" stroke-width="1.1"/>
<path d="M1161.98 381.02 L1161.98 372.34 L1166.75 372.34 L1168.34 373.79 L1168.34 376.30 L1166.75 377.74 L1161.98 377.74 M1164.63 377.74 L1168.34 381.02 M1171.43 373.79 L1173.02 372.34 L1176.21 372.34 L1177.80 373.79 L1177.80 375.72 L1171.43 381.02 L1177.80 381.02 M1180.89 373.79 L1182.48 372.34 L1185.67 372.34 L1187.26 373.79 L1187.26 375.72 L1180.89 381.02 L1187.26 381.02" fill="none" stroke="#b0b0b0" stroke-width="1.15" stroke-linecap="round" stroke-linejoin="round"/>
<polyline points="1167.35,436.4 1169.55,442.3 1173.35,430.5 1177.15,442.3 1180.95,430.5 1184.75,442.3 1186.75,436.4" fill="none" stroke="#a54b4b" stroke-width="1.3" stroke-linejoin="round" stroke-linecap="round"/>
<line x1="1146.6" y1="436.4" x2="1167.35" y2="436.4" stroke="#a54b4b" stroke-width="1.1"/>
<line x1="1186.75" y1="436.4" x2="1207.5" y2="436.4" stroke="#a54b4b" stroke-width="1.1"/>
<path d="M1161.98 422.82 L1161.98 414.14 L1166.75 414.14 L1168.34 415.59 L1168.34 418.10 L1166.75 419.54 L1161.98 419.54 M1164.63 419.54 L1168.34 422.82 M1171.43 415.59 L1173.02 414.14 L1176.21 414.14 L1177.80 415.59 L1177.80 417.52 L1171.43 422.82 L1177.80 422.82 M1180.89 415.59 L1182.48 414.14 L1185.67 414.14 L1187.26 415.59 L1187.26 417.03 L1185.67 418.39 L1183.54 418.39 M1185.67 418.39 L1187.26 419.83 L1187.26 421.38 L1185.67 422.82 L1182.48 422.82 L1180.89 421.38" fill="none" stroke="#b0b0b0" stroke-width="1.15" stroke-linecap="round" stroke-linejoin="round"/>
<path d="M1158.08 318.43 L1158.08 309.74 L1153.30 314.18 L1159.67 314.18 M1162.76 309.74 L1168.60 309.74 L1169.13 310.51 L1169.13 311.48 L1163.08 318.43 M1181.67 311.19 L1183.26 309.74 L1186.45 309.74 L1188.04 311.19 L1188.04 312.63 L1186.45 313.99 L1184.32 313.99 M1186.45 313.99 L1188.04 315.43 L1188.04 316.98 L1186.45 318.43 L1183.26 318.43 L1181.67 316.98 M1191.13 309.74 L1191.13 318.43 L1194.31 315.72 L1197.50 318.43 L1197.50 309.74" fill="none" stroke="#b0b0b0" stroke-width="1.15" stroke-linecap="round" stroke-linejoin="round"/><circle cx="1149.86" cy="318.14" r="1.21" fill="#b0b0b0"/>
<path d="M1158.08 364.53 L1158.08 355.84 L1153.30 360.28 L1159.67 360.28 M1162.76 355.84 L1168.60 355.84 L1169.13 356.61 L1169.13 357.58 L1163.08 364.53 M1181.67 357.29 L1183.26 355.84 L1186.45 355.84 L1188.04 357.29 L1188.04 358.74 L1186.45 360.09 L1184.32 360.09 M1186.45 360.09 L1188.04 361.53 L1188.04 363.08 L1186.45 364.53 L1183.26 364.53 L1181.67 363.08 M1191.13 355.84 L1191.13 364.53 L1194.31 361.82 L1197.50 364.53 L1197.50 355.84" fill="none" stroke="#b0b0b0" stroke-width="1.15" stroke-linecap="round" stroke-linejoin="round"/><circle cx="1149.86" cy="364.24" r="1.21" fill="#b0b0b0"/>
<path d="M1158.08 410.03 L1158.08 401.34 L1153.30 405.78 L1159.67 405.78 M1162.76 401.34 L1168.60 401.34 L1169.13 402.11 L1169.13 403.08 L1163.08 410.03 M1181.67 402.79 L1183.26 401.34 L1186.45 401.34 L1188.04 402.79 L1188.04 404.24 L1186.45 405.59 L1184.32 405.59 M1186.45 405.59 L1188.04 407.03 L1188.04 408.58 L1186.45 410.03 L1183.26 410.03 L1181.67 408.58 M1191.13 401.34 L1191.13 410.03 L1194.31 407.32 L1197.50 410.03 L1197.50 401.34" fill="none" stroke="#b0b0b0" stroke-width="1.15" stroke-linecap="round" stroke-linejoin="round"/><circle cx="1149.86" cy="409.74" r="1.21" fill="#b0b0b0"/>
<path d="M1158.08 455.23 L1158.08 446.54 L1153.30 450.98 L1159.67 450.98 M1162.76 446.54 L1168.60 446.54 L1169.13 447.31 L1169.13 448.28 L1163.08 455.23 M1181.67 447.99 L1183.26 446.54 L1186.45 446.54 L1188.04 447.99 L1188.04 449.44 L1186.45 450.79 L1184.32 450.79 M1186.45 450.79 L1188.04 452.23 L1188.04 453.78 L1186.45 455.23 L1183.26 455.23 L1181.67 453.78 M1191.13 446.54 L1191.13 455.23 L1194.31 452.52 L1197.50 455.23 L1197.50 446.54" fill="none" stroke="#b0b0b0" stroke-width="1.15" stroke-linecap="round" stroke-linejoin="round"/><circle cx="1149.86" cy="454.94" r="1.21" fill="#b0b0b0"/>
<polyline points="1207.5,299.2 1207.5,436.4" fill="none" stroke="#4ba54b" stroke-width="1.15" stroke-linejoin="round" stroke-linecap="round"/>
<polyline points="1146.6,299.3 1146.6,542.9" fill="none" stroke="#4ba54b" stroke-width="1.15" stroke-linejoin="round" stroke-linecap="round"/>
<polyline points="1129.3,573.2 1131.5,579.1 1135.3,567.3 1139.1,579.1 1142.9,567.3 1146.7,579.1 1148.7,573.2" fill="none" stroke="#a54b4b" stroke-width="1.3" stroke-linejoin="round" stroke-linecap="round"/>
<line x1="1108.6" y1="573.2" x2="1129.3" y2="573.2" stroke="#a54b4b" stroke-width="1.1"/>
<line x1="1148.7" y1="573.2" x2="1169.3" y2="573.2" stroke="#a54b4b" stroke-width="1.1"/>
<path d="M1126.38 565.02 L1126.38 556.34 L1131.15 556.34 L1132.74 557.79 L1132.74 560.30 L1131.15 561.74 L1126.38 561.74 M1129.03 561.74 L1132.74 565.02 M1135.83 557.79 L1137.42 556.34 L1140.61 556.34 L1142.20 557.79 L1142.20 559.72 L1135.83 565.02 L1142.20 565.02 M1150.07 565.02 L1150.07 556.34 L1145.29 560.78 L1151.66 560.78" fill="none" stroke="#b0b0b0" stroke-width="1.15" stroke-linecap="round" stroke-linejoin="round"/>
<path d="M1123.17 587.93 L1126.36 585.04 L1126.36 593.72 M1123.17 593.72 L1129.12 593.72 M1132.63 585.04 L1132.63 593.72 M1139.00 585.04 L1132.63 590.35 M1134.86 588.51 L1139.00 593.72 M1142.09 586.49 L1143.68 585.04 L1146.87 585.04 L1148.46 586.49 L1148.46 588.42 L1142.09 593.72 L1148.46 593.72" fill="none" stroke="#b0b0b0" stroke-width="1.15" stroke-linecap="round" stroke-linejoin="round"/>
<polyline points="1169.3,573.2 1192.4,573.2" fill="none" stroke="#4ba54b" stroke-width="1.15" stroke-linejoin="round" stroke-linecap="round"/>
<line x1="1192.65" y1="573.2" x2="1211.45" y2="573.2" stroke="#a54b4b" stroke-width="1.1"/>
<line x1="1219.05" y1="573.2" x2="1237.85" y2="573.2" stroke="#a54b4b" stroke-width="1.1"/>
<line x1="1211.45" y1="557.8" x2="1211.45" y2="588.6" stroke="#a54b4b" stroke-width="2"/>
<line x1="1219.05" y1="557.8" x2="1219.05" y2="588.6" stroke="#a54b4b" stroke-width="2"/>
<line x1="1204.15" y1="584.6" x2="1208.55" y2="584.6" stroke="#a54b4b" stroke-width="1.2"/>
<line x1="1206.35" y1="582.4" x2="1206.35" y2="586.8" stroke="#a54b4b" stroke-width="1.2"/>
<path d="M1215.94 549.19 L1214.35 547.74 L1211.17 547.74 L1209.58 549.19 L1209.58 554.98 L1211.17 556.42 L1214.35 556.42 L1215.94 554.98 M1219.03 549.19 L1220.62 547.74 L1223.81 547.74 L1225.40 549.19 L1225.40 550.63 L1223.81 551.99 L1221.69 551.99 M1223.81 551.99 L1225.40 553.43 L1225.40 554.98 L1223.81 556.42 L1220.62 556.42 L1219.03 554.98" fill="none" stroke="#b0b0b0" stroke-width="1.15" stroke-linecap="round" stroke-linejoin="round"/>
<path d="M1224.58 585.09 L1226.17 583.64 L1229.35 583.64 L1230.94 585.09 L1230.94 587.02 L1224.58 592.32 L1230.94 592.32 M1234.03 585.09 L1235.62 583.64 L1238.81 583.64 L1240.40 585.09 L1240.40 587.02 L1234.03 592.32 L1240.40 592.32 M1245.08 583.64 L1248.27 583.64 L1249.86 585.09 L1249.86 590.88 L1248.27 592.32 L1245.08 592.32 L1243.49 590.88 L1243.49 585.09 L1245.08 583.64 M1244.13 590.39 L1249.22 585.57 M1252.95 586.53 L1252.95 590.88 L1254.54 592.32 L1259.32 592.32 M1259.32 586.53 L1259.32 592.32 M1268.77 583.64 L1264.00 583.64 L1262.40 585.09 L1262.40 592.32 M1262.40 587.79 L1266.65 587.79" fill="none" stroke="#b0b0b0" stroke-width="1.15" stroke-linecap="round" stroke-linejoin="round"/>
<polyline points="1192.4,573.2 1192.4,527.3" fill="none" stroke="#4ba54b" stroke-width="1.15" stroke-linejoin="round" stroke-linecap="round"/>
<line x1="1192.65" y1="527.3" x2="1211.45" y2="527.3" stroke="#a54b4b" stroke-width="1.1"/>
<line x1="1219.05" y1="527.3" x2="1237.85" y2="527.3" stroke="#a54b4b" stroke-width="1.1"/>
<line x1="1211.45" y1="511.9" x2="1211.45" y2="542.7" stroke="#a54b4b" stroke-width="2"/>
<line x1="1219.05" y1="511.9" x2="1219.05" y2="542.7" stroke="#a54b4b" stroke-width="2"/>
<polyline points="1238.1,527.3 1238.1,573.2" fill="none" stroke="#4ba54b" stroke-width="1.15" stroke-linejoin="round" stroke-linecap="round"/>
<path d="M1212.54 503.19 L1210.95 501.74 L1207.77 501.74 L1206.17 503.19 L1206.17 508.98 L1207.77 510.43 L1210.95 510.43 L1212.54 508.98 M1222.00 501.74 L1217.01 505.02 L1215.63 506.56 L1215.63 508.98 L1217.22 510.43 L1220.41 510.43 L1222.00 508.98 L1222.00 506.76 L1220.41 505.31 L1217.22 505.31 L1215.63 506.76" fill="none" stroke="#b0b0b0" stroke-width="1.15" stroke-linecap="round" stroke-linejoin="round"/>
<polyline points="1238.1,573.2 1359.9,573.2 1359.9,558.3" fill="none" stroke="#4ba54b" stroke-width="1.15" stroke-linejoin="round" stroke-linecap="round"/>
<rect x="1344.5" y="542.5" width="30.6" height="15.3" fill="none" stroke="#a54b4b" stroke-width="1.1"/>
<text x="1359.8" y="554.1" font-size="11.5" fill="#a54b4b" text-anchor="middle" font-family="Liberation Sans" opacity="0.995" >OUT</text>
<rect x="1344.6" y="207.6" width="30.5" height="15.2" fill="none" stroke="#a54b4b" stroke-width="1.1"/>
<text x="1359.85" y="219.1" font-size="11.5" fill="#a54b4b" text-anchor="middle" font-family="Liberation Sans" opacity="0.995" >+24V</text>
<rect x="1344.7" y="634.1" width="30.5" height="15.1" fill="none" stroke="#a54b4b" stroke-width="1.1"/>
<text x="1359.95" y="645.5" font-size="11.5" fill="#a54b4b" text-anchor="middle" font-family="Liberation Sans" opacity="0.995" >GND</text>
<line x1="1360" y1="649.7" x2="1360" y2="694.9" stroke="#a54b4b" stroke-width="1.1"/>
<line x1="1347.7" y1="694.9" x2="1372.3" y2="694.9" stroke="#a54b4b" stroke-width="1.8"/>
<line x1="1352.5" y1="698.3" x2="1367.5" y2="698.3" stroke="#a54b4b" stroke-width="1.6"/>
<line x1="1355" y1="701.5" x2="1365" y2="701.5" stroke="#a54b4b" stroke-width="1.5"/>
<line x1="1357.2" y1="704.6" x2="1362.8" y2="704.6" stroke="#a54b4b" stroke-width="1.6"/>
<rect x="1344.7" y="786.7" width="30.5" height="14.6" fill="none" stroke="#a54b4b" stroke-width="1.1"/>
<text x="1359.95" y="797.6" font-size="11.5" fill="#a54b4b" text-anchor="middle" font-family="Liberation Sans" opacity="0.995" >-24V</text>
<polyline points="750.3,664.5 750.3,725.8" fill="none" stroke="#4ba54b" stroke-width="1.15" stroke-linejoin="round" stroke-linecap="round"/>
<rect x="762.6" y="741" width="5.2" height="30.1" fill="#a54b4b"/>
<line x1="767.8" y1="755.3" x2="780.7" y2="755.3" stroke="#a54b4b" stroke-width="1.1"/>
<line x1="762.6" y1="746.6" x2="750.1" y2="740.5" stroke="#a54b4b" stroke-width="1.2"/>
<line x1="750.1" y1="740.5" x2="750.1" y2="725.6" stroke="#a54b4b" stroke-width="1.1"/>
<line x1="762.6" y1="764.8" x2="752" y2="770.3" stroke="#a54b4b" stroke-width="1.2"/>
<polygon points="750.1,771.3 754.9,764.7 757.9,771.1" fill="#a54b4b" stroke="#a54b4b" stroke-width="0.6" stroke-linejoin="round" stroke-linecap="round"/>
<line x1="750.1" y1="771.3" x2="750.1" y2="786.2" stroke="#a54b4b" stroke-width="1.1"/>
<path d="M725.99 746.34 L729.18 746.34 L730.77 747.79 L730.77 753.58 L729.18 755.02 L725.99 755.02 L724.40 753.58 L724.40 747.79 L725.99 746.34 M727.58 752.13 L730.34 754.83 M733.86 747.79 L735.45 746.34 L738.63 746.34 L740.22 747.79 L740.22 749.24 L738.63 750.59 L736.51 750.59 M738.63 750.59 L740.22 752.03 L740.22 753.58 L738.63 755.02 L735.45 755.02 L733.86 753.58" fill="none" stroke="#b0b0b0" stroke-width="1.15" stroke-linecap="round" stroke-linejoin="round"/>
<polyline points="750.1,786.2 750.1,816.8" fill="none" stroke="#4ba54b" stroke-width="1.15" stroke-linejoin="round" stroke-linecap="round"/>
<polyline points="780.7,756 846,756" fill="none" stroke="#4ba54b" stroke-width="1.15" stroke-linejoin="round" stroke-linecap="round"/>
<polyline points="796.1,776.8 790.2,779 802,782.8 790.2,786.6 802,790.4 790.2,794.2 796.1,796.2" fill="none" stroke="#a54b4b" stroke-width="1.3" stroke-linejoin="round" stroke-linecap="round"/>
<line x1="796.1" y1="756" x2="796.1" y2="776.8" stroke="#a54b4b" stroke-width="1.1"/>
<line x1="796.1" y1="796.2" x2="796.1" y2="816.8" stroke="#a54b4b" stroke-width="1.1"/>
<path d="M807.48 780.52 L807.48 771.84 L812.25 771.84 L813.84 773.29 L813.84 775.80 L812.25 777.24 L807.48 777.24 M810.13 777.24 L813.84 780.52 M816.93 774.74 L820.12 771.84 L820.12 780.52 M816.93 780.52 L822.88 780.52 M831.17 780.52 L831.17 771.84 L826.39 776.28 L832.76 776.28" fill="none" stroke="#b0b0b0" stroke-width="1.15" stroke-linecap="round" stroke-linejoin="round"/>
<path d="M807.48 786.99 L809.07 785.54 L812.25 785.54 L813.84 786.99 L813.84 788.43 L812.25 789.79 L810.13 789.79 M812.25 789.79 L813.84 791.23 L813.84 792.78 L812.25 794.22 L809.07 794.22 L807.48 792.78 M823.30 789.59 L818.52 789.59 L816.93 788.24 L816.93 786.99 L818.52 785.54 L821.71 785.54 L823.30 786.99 L823.30 792.78 L821.71 794.22 L818.52 794.22 L817.14 793.26 M826.39 786.99 L827.98 785.54 L831.17 785.54 L832.76 786.99 L832.76 788.92 L826.39 794.22 L832.76 794.22" fill="none" stroke="#b0b0b0" stroke-width="1.15" stroke-linecap="round" stroke-linejoin="round"/>
<polyline points="866.5,756 868.7,761.9 872.5,750.1 876.3,761.9 880.1,750.1 883.9,761.9 885.9,756" fill="none" stroke="#a54b4b" stroke-width="1.3" stroke-linejoin="round" stroke-linecap="round"/>
<line x1="846" y1="756" x2="866.5" y2="756" stroke="#a54b4b" stroke-width="1.1"/>
<line x1="885.9" y1="756" x2="906.4" y2="756" stroke="#a54b4b" stroke-width="1.1"/>
<path d="M860.58 777.02 L860.58 768.34 L865.35 768.34 L866.94 769.79 L866.94 772.30 L865.35 773.74 L860.58 773.74 M863.23 773.74 L866.94 777.02 M870.03 771.24 L873.22 768.34 L873.22 777.02 M870.03 777.02 L875.98 777.02 M879.49 769.79 L881.08 768.34 L884.27 768.34 L885.86 769.79 L885.86 771.24 L884.27 772.59 L882.14 772.59 M884.27 772.59 L885.86 774.03 L885.86 775.58 L884.27 777.02 L881.08 777.02 L879.49 775.58" fill="none" stroke="#b0b0b0" stroke-width="1.15" stroke-linecap="round" stroke-linejoin="round"/>
<path d="M865.28 782.89 L866.87 781.44 L870.05 781.44 L871.64 782.89 L871.64 784.82 L865.28 790.12 L871.64 790.12 M874.73 782.89 L876.32 781.44 L879.51 781.44 L881.10 782.89 L881.10 784.82 L874.73 790.12 L881.10 790.12 M884.19 784.34 L887.37 781.44 L887.37 790.12 M884.19 790.12 L890.13 790.12" fill="none" stroke="#b0b0b0" stroke-width="1.15" stroke-linecap="round" stroke-linejoin="round"/>
<polyline points="906.4,756 1070.3,756" fill="none" stroke="#4ba54b" stroke-width="1.15" stroke-linejoin="round" stroke-linecap="round"/>
<polyline points="879.9,685.6 874,687.8 885.8,691.6 874,695.4 885.8,699.2 874,703 879.9,705" fill="none" stroke="#a54b4b" stroke-width="1.3" stroke-linejoin="round" stroke-linecap="round"/>
<line x1="879.9" y1="664.5" x2="879.9" y2="685.6" stroke="#a54b4b" stroke-width="1.1"/>
<line x1="879.9" y1="705" x2="879.9" y2="725.4" stroke="#a54b4b" stroke-width="1.1"/>
<path d="M844.04 694.32 L844.04 685.64 L848.82 685.64 L850.41 687.09 L850.41 689.60 L848.82 691.04 L844.04 691.04 M846.70 691.04 L850.41 694.32 M853.50 688.53 L856.68 685.64 L856.68 694.32 M853.50 694.32 L859.44 694.32 M862.96 688.53 L866.14 685.64 L866.14 694.32 M862.96 694.32 L868.90 694.32" fill="none" stroke="#b0b0b0" stroke-width="1.15" stroke-linecap="round" stroke-linejoin="round"/>
<path d="M844.04 700.49 L845.63 699.04 L848.82 699.04 L850.41 700.49 L850.41 702.42 L844.04 707.72 L850.41 707.72 M853.50 700.49 L855.09 699.04 L858.28 699.04 L859.87 700.49 L859.87 702.42 L853.50 707.72 L859.87 707.72 M862.96 701.93 L866.14 699.04 L866.14 707.72 M862.96 707.72 L868.90 707.72" fill="none" stroke="#b0b0b0" stroke-width="1.15" stroke-linecap="round" stroke-linejoin="round"/>
<polyline points="879.9,725.4 907.2,725.4" fill="none" stroke="#4ba54b" stroke-width="1.15" stroke-linejoin="round" stroke-linecap="round"/>
<line x1="914.9" y1="696.1" x2="914.9" y2="727" stroke="#a54b4b" stroke-width="1.7"/>
<line x1="907.2" y1="726.3" x2="914.9" y2="726.3" stroke="#a54b4b" stroke-width="1.1"/>
<rect x="920.1" y="696.4" width="5.1" height="7" fill="#a54b4b"/>
<rect x="920.1" y="706.1" width="5.1" height="10.2" fill="#a54b4b"/>
<rect x="920.1" y="719.1" width="5.1" height="7.4" fill="#a54b4b"/>
<polyline points="925.2,699.3 944.8,699.3 944.8,722.4 925.2,722.4" fill="none" stroke="#a54b4b" stroke-width="1.1" stroke-linejoin="round" stroke-linecap="round"/>
<line x1="937.3" y1="699.3" x2="937.3" y2="681.1" stroke="#a54b4b" stroke-width="1.1"/>
<polygon points="944.8,707.4 941.2,712.4 948.4,712.4" fill="#a54b4b" stroke="#a54b4b" stroke-width="0.6" stroke-linejoin="round" stroke-linecap="round"/>
<line x1="941.2" y1="707.4" x2="948.4" y2="707.4" stroke="#a54b4b" stroke-width="1.2"/>
<polygon points="925.2,711.1 933,707.9 933,714.3" fill="#a54b4b" stroke="#a54b4b" stroke-width="0.6" stroke-linejoin="round" stroke-linecap="round"/>
<polyline points="933,711.1 937.3,711.1 937.3,722.4" fill="none" stroke="#a54b4b" stroke-width="1.1" stroke-linejoin="round" stroke-linecap="round"/>
<rect x="935.4" y="720.5" width="3.8" height="3.8" transform="rotate(45 937.3 722.4)" fill="#a54b4b"/>
<line x1="937.3" y1="722.4" x2="937.3" y2="741.5" stroke="#a54b4b" stroke-width="1.1"/>
<path d="M953.87 704.74 L957.05 704.74 L958.64 706.19 L958.64 711.98 L957.05 713.42 L953.87 713.42 L952.28 711.98 L952.28 706.19 L953.87 704.74 M955.46 710.53 L958.22 713.23 M961.73 704.74 L967.57 704.74 L968.10 705.51 L968.10 706.48 L962.05 713.42" fill="none" stroke="#b0b0b0" stroke-width="1.15" stroke-linecap="round" stroke-linejoin="round"/>
<polyline points="937.3,741.5 937.3,756.6" fill="none" stroke="#4ba54b" stroke-width="1.15" stroke-linejoin="round" stroke-linecap="round"/>
<polyline points="937.3,777.1 931.4,779.3 943.2,783.1 931.4,786.9 943.2,790.7 931.4,794.5 937.3,796.5" fill="none" stroke="#a54b4b" stroke-width="1.3" stroke-linejoin="round" stroke-linecap="round"/>
<line x1="937.3" y1="756.6" x2="937.3" y2="777.1" stroke="#a54b4b" stroke-width="1.1"/>
<line x1="937.3" y1="796.5" x2="937.3" y2="816.8" stroke="#a54b4b" stroke-width="1.1"/>
<path d="M948.68 784.12 L948.68 775.44 L953.45 775.44 L955.04 776.89 L955.04 779.40 L953.45 780.84 L948.68 780.84 M951.33 780.84 L955.04 784.12 M958.13 778.34 L961.32 775.44 L961.32 784.12 M958.13 784.12 L964.08 784.12 M969.18 775.44 L972.37 775.44 L973.96 776.89 L973.96 778.14 L972.37 779.49 L969.18 779.49 L967.59 778.14 L967.59 776.89 L969.18 775.44 M969.18 779.49 L967.59 780.94 L967.59 782.68 L969.18 784.12 L972.37 784.12 L973.96 782.68 L973.96 780.94 L972.37 779.49" fill="none" stroke="#b0b0b0" stroke-width="1.15" stroke-linecap="round" stroke-linejoin="round"/>
<path d="M957.18 797.72 L957.18 789.04 L952.40 793.48 L958.77 793.48 M961.86 789.04 L967.70 789.04 L968.23 789.81 L968.23 790.78 L962.18 797.72 M980.77 790.49 L982.36 789.04 L985.55 789.04 L987.14 790.49 L987.14 791.93 L985.55 793.29 L983.42 793.29 M985.55 793.29 L987.14 794.73 L987.14 796.28 L985.55 797.72 L982.36 797.72 L980.77 796.28 M990.23 789.04 L990.23 797.72 L993.41 795.02 L996.60 797.72 L996.60 789.04" fill="none" stroke="#b0b0b0" stroke-width="1.15" stroke-linecap="round" stroke-linejoin="round"/><circle cx="948.96" cy="797.44" r="1.21" fill="#b0b0b0"/>
<polyline points="998.1,685.7 992.2,687.9 1004,691.7 992.2,695.5 1004,699.3 992.2,703.1 998.1,705.1" fill="none" stroke="#a54b4b" stroke-width="1.3" stroke-linejoin="round" stroke-linecap="round"/>
<line x1="998.1" y1="664.5" x2="998.1" y2="685.7" stroke="#a54b4b" stroke-width="1.1"/>
<line x1="998.1" y1="705.1" x2="998.1" y2="725.3" stroke="#a54b4b" stroke-width="1.1"/>
<path d="M1008.68 694.42 L1008.68 685.74 L1013.45 685.74 L1015.04 687.19 L1015.04 689.70 L1013.45 691.14 L1008.68 691.14 M1011.33 691.14 L1015.04 694.42 M1018.13 688.63 L1021.32 685.74 L1021.32 694.42 M1018.13 694.42 L1024.08 694.42 M1027.59 687.19 L1029.18 685.74 L1032.37 685.74 L1033.96 687.19 L1033.96 689.12 L1027.59 694.42 L1033.96 694.42" fill="none" stroke="#b0b0b0" stroke-width="1.15" stroke-linecap="round" stroke-linejoin="round"/>
<path d="M1008.68 700.69 L1010.27 699.24 L1013.45 699.24 L1015.04 700.69 L1015.04 702.62 L1008.68 707.92 L1015.04 707.92 M1018.13 700.69 L1019.72 699.24 L1022.91 699.24 L1024.50 700.69 L1024.50 702.62 L1018.13 707.92 L1024.50 707.92 M1027.59 702.13 L1030.77 699.24 L1030.77 707.92 M1027.59 707.92 L1033.53 707.92" fill="none" stroke="#b0b0b0" stroke-width="1.15" stroke-linecap="round" stroke-linejoin="round"/>
<polyline points="998.1,725.3 1040.5,725.3" fill="none" stroke="#4ba54b" stroke-width="1.15" stroke-linejoin="round" stroke-linecap="round"/>
<line x1="1048.2" y1="696.1" x2="1048.2" y2="727" stroke="#a54b4b" stroke-width="1.7"/>
<line x1="1040.5" y1="726.3" x2="1048.2" y2="726.3" stroke="#a54b4b" stroke-width="1.1"/>
<rect x="1053.4" y="696.4" width="5.1" height="7" fill="#a54b4b"/>
<rect x="1053.4" y="706.1" width="5.1" height="10.2" fill="#a54b4b"/>
<rect x="1053.4" y="719.1" width="5.1" height="7.4" fill="#a54b4b"/>
<polyline points="1058.5,699.3 1077.8,699.3 1077.8,722.4 1058.5,722.4" fill="none" stroke="#a54b4b" stroke-width="1.1" stroke-linejoin="round" stroke-linecap="round"/>
<line x1="1070.3" y1="699.3" x2="1070.3" y2="681.1" stroke="#a54b4b" stroke-width="1.1"/>
<polygon points="1077.8,707.4 1074.2,712.4 1081.4,712.4" fill="#a54b4b" stroke="#a54b4b" stroke-width="0.6" stroke-linejoin="round" stroke-linecap="round"/>
<line x1="1074.2" y1="707.4" x2="1081.4" y2="707.4" stroke="#a54b4b" stroke-width="1.2"/>
<polygon points="1058.5,711.1 1066,707.9 1066,714.3" fill="#a54b4b" stroke="#a54b4b" stroke-width="0.6" stroke-linejoin="round" stroke-linecap="round"/>
<polyline points="1066,711.1 1070.3,711.1 1070.3,722.4" fill="none" stroke="#a54b4b" stroke-width="1.1" stroke-linejoin="round" stroke-linecap="round"/>
<rect x="1068.4" y="720.5" width="3.8" height="3.8" transform="rotate(45 1070.3 722.4)" fill="#a54b4b"/>
<line x1="1070.3" y1="722.4" x2="1070.3" y2="741.5" stroke="#a54b4b" stroke-width="1.1"/>
<path d="M1087.27 704.74 L1090.45 704.74 L1092.04 706.19 L1092.04 711.98 L1090.45 713.42 L1087.27 713.42 L1085.67 711.98 L1085.67 706.19 L1087.27 704.74 M1088.86 710.53 L1091.62 713.23 M1096.72 704.74 L1099.91 704.74 L1101.50 706.19 L1101.50 707.44 L1099.91 708.79 L1096.72 708.79 L1095.13 707.44 L1095.13 706.19 L1096.72 704.74 M1096.72 708.79 L1095.13 710.24 L1095.13 711.98 L1096.72 713.42 L1099.91 713.42 L1101.50 711.98 L1101.50 710.24 L1099.91 708.79" fill="none" stroke="#b0b0b0" stroke-width="1.15" stroke-linecap="round" stroke-linejoin="round"/>
<polyline points="1070.3,741.5 1070.3,756" fill="none" stroke="#4ba54b" stroke-width="1.15" stroke-linejoin="round" stroke-linecap="round"/>
<polyline points="1070.3,777.1 1064.4,779.3 1076.2,783.1 1064.4,786.9 1076.2,790.7 1064.4,794.5 1070.3,796.5" fill="none" stroke="#a54b4b" stroke-width="1.3" stroke-linejoin="round" stroke-linecap="round"/>
<line x1="1070.3" y1="756" x2="1070.3" y2="777.1" stroke="#a54b4b" stroke-width="1.1"/>
<line x1="1070.3" y1="796.5" x2="1070.3" y2="816.8" stroke="#a54b4b" stroke-width="1.1"/>
<path d="M1081.38 780.02 L1081.38 771.34 L1086.15 771.34 L1087.74 772.79 L1087.74 775.30 L1086.15 776.74 L1081.38 776.74 M1084.03 776.74 L1087.74 780.02 M1090.83 774.24 L1094.02 771.34 L1094.02 780.02 M1090.83 780.02 L1096.78 780.02 M1106.66 775.39 L1101.88 775.39 L1100.29 774.04 L1100.29 772.79 L1101.88 771.34 L1105.07 771.34 L1106.66 772.79 L1106.66 778.58 L1105.07 780.02 L1101.88 780.02 L1100.50 779.06" fill="none" stroke="#b0b0b0" stroke-width="1.15" stroke-linecap="round" stroke-linejoin="round"/>
<path d="M1089.88 793.72 L1089.88 785.04 L1085.10 789.48 L1091.47 789.48 M1094.56 785.04 L1100.40 785.04 L1100.93 785.81 L1100.93 786.78 L1094.88 793.72 M1113.47 786.49 L1115.06 785.04 L1118.25 785.04 L1119.84 786.49 L1119.84 787.93 L1118.25 789.29 L1116.12 789.29 M1118.25 789.29 L1119.84 790.73 L1119.84 792.28 L1118.25 793.72 L1115.06 793.72 L1113.47 792.28 M1122.93 785.04 L1122.93 793.72 L1126.11 791.02 L1129.30 793.72 L1129.30 785.04" fill="none" stroke="#b0b0b0" stroke-width="1.15" stroke-linecap="round" stroke-linejoin="round"/><circle cx="1081.66" cy="793.44" r="1.21" fill="#b0b0b0"/>
<rect x="290.3" y="600.9" width="5.8" height="5.8" rx="1.8" transform="rotate(45 293.2 603.8)" fill="#47a047"/>
<rect x="183.5" y="661.6" width="5.8" height="5.8" rx="1.8" transform="rotate(45 186.4 664.5)" fill="#47a047"/>
<rect x="488.5" y="326.6" width="5.8" height="5.8" rx="1.8" transform="rotate(45 491.4 329.5)" fill="#47a047"/>
<rect x="381.6" y="433.3" width="5.8" height="5.8" rx="1.8" transform="rotate(45 384.5 436.2)" fill="#47a047"/>
<rect x="381.6" y="326.6" width="5.8" height="5.8" rx="1.8" transform="rotate(45 384.5 329.5)" fill="#47a047"/>
<rect x="427.3" y="235.2" width="5.8" height="5.8" rx="1.8" transform="rotate(45 430.2 238.1)" fill="#47a047"/>
<rect x="488.5" y="235.2" width="5.8" height="5.8" rx="1.8" transform="rotate(45 491.4 238.1)" fill="#47a047"/>
<rect x="549.2" y="235.2" width="5.8" height="5.8" rx="1.8" transform="rotate(45 552.1 238.1)" fill="#47a047"/>
<rect x="579.7" y="235.2" width="5.8" height="5.8" rx="1.8" transform="rotate(45 582.6 238.1)" fill="#47a047"/>
<rect x="640.6" y="235.2" width="5.8" height="5.8" rx="1.8" transform="rotate(45 643.5 238.1)" fill="#47a047"/>
<rect x="747.4" y="235.2" width="5.8" height="5.8" rx="1.8" transform="rotate(45 750.3 238.1)" fill="#47a047"/>
<rect x="934.4" y="235.2" width="5.8" height="5.8" rx="1.8" transform="rotate(45 937.3 238.1)" fill="#47a047"/>
<rect x="1067.5" y="235.2" width="5.8" height="5.8" rx="1.8" transform="rotate(45 1070.4 238.1)" fill="#47a047"/>
<rect x="488.3" y="600.9" width="5.8" height="5.8" rx="1.8" transform="rotate(45 491.2 603.8)" fill="#47a047"/>
<rect x="457.8" y="661.6" width="5.8" height="5.8" rx="1.8" transform="rotate(45 460.7 664.5)" fill="#47a047"/>
<rect x="656.2" y="555.2" width="5.8" height="5.8" rx="1.8" transform="rotate(45 659.1 558.1)" fill="#47a047"/>
<rect x="656.2" y="600.9" width="5.8" height="5.8" rx="1.8" transform="rotate(45 659.1 603.8)" fill="#47a047"/>
<rect x="716.9" y="600.9" width="5.8" height="5.8" rx="1.8" transform="rotate(45 719.8 603.8)" fill="#47a047"/>
<rect x="457.8" y="737.9" width="5.8" height="5.8" rx="1.8" transform="rotate(45 460.7 740.8)" fill="#47a047"/>
<rect x="427.5" y="813.9" width="5.8" height="5.8" rx="1.8" transform="rotate(45 430.4 816.8)" fill="#47a047"/>
<rect x="457.7" y="813.9" width="5.8" height="5.8" rx="1.8" transform="rotate(45 460.6 816.8)" fill="#47a047"/>
<rect x="488.2" y="813.9" width="5.8" height="5.8" rx="1.8" transform="rotate(45 491.1 816.8)" fill="#47a047"/>
<rect x="518.9" y="813.9" width="5.8" height="5.8" rx="1.8" transform="rotate(45 521.8 816.8)" fill="#47a047"/>
<rect x="640.8" y="813.9" width="5.8" height="5.8" rx="1.8" transform="rotate(45 643.7 816.8)" fill="#47a047"/>
<rect x="747.4" y="813.9" width="5.8" height="5.8" rx="1.8" transform="rotate(45 750.3 816.8)" fill="#47a047"/>
<rect x="793.2" y="813.9" width="5.8" height="5.8" rx="1.8" transform="rotate(45 796.1 816.8)" fill="#47a047"/>
<rect x="934.4" y="813.9" width="5.8" height="5.8" rx="1.8" transform="rotate(45 937.3 816.8)" fill="#47a047"/>
<rect x="1067.4" y="813.9" width="5.8" height="5.8" rx="1.8" transform="rotate(45 1070.3 816.8)" fill="#47a047"/>
<rect x="747.4" y="296.4" width="5.8" height="5.8" rx="1.8" transform="rotate(45 750.3 299.3)" fill="#47a047"/>
<rect x="838.9" y="296.4" width="5.8" height="5.8" rx="1.8" transform="rotate(45 841.8 299.3)" fill="#47a047"/>
<rect x="884.6" y="296.4" width="5.8" height="5.8" rx="1.8" transform="rotate(45 887.5 299.3)" fill="#47a047"/>
<rect x="747.4" y="357.3" width="5.8" height="5.8" rx="1.8" transform="rotate(45 750.3 360.2)" fill="#47a047"/>
<rect x="793.2" y="357.3" width="5.8" height="5.8" rx="1.8" transform="rotate(45 796.1 360.2)" fill="#47a047"/>
<rect x="793.2" y="417.9" width="5.8" height="5.8" rx="1.8" transform="rotate(45 796.1 420.8)" fill="#47a047"/>
<rect x="793.2" y="478.5" width="5.8" height="5.8" rx="1.8" transform="rotate(45 796.1 481.4)" fill="#47a047"/>
<rect x="823.5" y="478.5" width="5.8" height="5.8" rx="1.8" transform="rotate(45 826.4 481.4)" fill="#47a047"/>
<rect x="854.2" y="478.5" width="5.8" height="5.8" rx="1.8" transform="rotate(45 857.1 481.4)" fill="#47a047"/>
<rect x="869.4" y="387.5" width="5.8" height="5.8" rx="1.8" transform="rotate(45 872.3 390.4)" fill="#47a047"/>
<rect x="934.4" y="479.2" width="5.8" height="5.8" rx="1.8" transform="rotate(45 937.3 482.1)" fill="#47a047"/>
<rect x="934.4" y="540" width="5.8" height="5.8" rx="1.8" transform="rotate(45 937.3 542.9)" fill="#47a047"/>
<rect x="1067.4" y="540" width="5.8" height="5.8" rx="1.8" transform="rotate(45 1070.3 542.9)" fill="#47a047"/>
<rect x="1143.7" y="296.3" width="5.8" height="5.8" rx="1.8" transform="rotate(45 1146.6 299.2)" fill="#47a047"/>
<rect x="1143.7" y="341.8" width="5.8" height="5.8" rx="1.8" transform="rotate(45 1146.6 344.7)" fill="#47a047"/>
<rect x="1204.6" y="341.8" width="5.8" height="5.8" rx="1.8" transform="rotate(45 1207.5 344.7)" fill="#47a047"/>
<rect x="1143.7" y="387.5" width="5.8" height="5.8" rx="1.8" transform="rotate(45 1146.6 390.4)" fill="#47a047"/>
<rect x="1204.6" y="387.5" width="5.8" height="5.8" rx="1.8" transform="rotate(45 1207.5 390.4)" fill="#47a047"/>
<rect x="1143.7" y="433.5" width="5.8" height="5.8" rx="1.8" transform="rotate(45 1146.6 436.4)" fill="#47a047"/>
<rect x="1204.6" y="433.5" width="5.8" height="5.8" rx="1.8" transform="rotate(45 1207.5 436.4)" fill="#47a047"/>
<rect x="1189.5" y="570.3" width="5.8" height="5.8" rx="1.8" transform="rotate(45 1192.4 573.2)" fill="#47a047"/>
<rect x="1235.2" y="570.3" width="5.8" height="5.8" rx="1.8" transform="rotate(45 1238.1 573.2)" fill="#47a047"/>
<rect x="1280.8" y="570.3" width="5.8" height="5.8" rx="1.8" transform="rotate(45 1283.7 573.2)" fill="#47a047"/>
<rect x="934.4" y="540" width="5.8" height="5.8" rx="1.8" transform="rotate(45 937.3 542.9)" fill="#47a047"/>
<rect x="747.4" y="661.6" width="5.8" height="5.8" rx="1.8" transform="rotate(45 750.3 664.5)" fill="#47a047"/>
<rect x="877" y="661.6" width="5.8" height="5.8" rx="1.8" transform="rotate(45 879.9 664.5)" fill="#47a047"/>
<rect x="793.2" y="753.1" width="5.8" height="5.8" rx="1.8" transform="rotate(45 796.1 756)" fill="#47a047"/>
<rect x="1067.4" y="753.1" width="5.8" height="5.8" rx="1.8" transform="rotate(45 1070.3 756)" fill="#47a047"/>
</svg></body></html>
